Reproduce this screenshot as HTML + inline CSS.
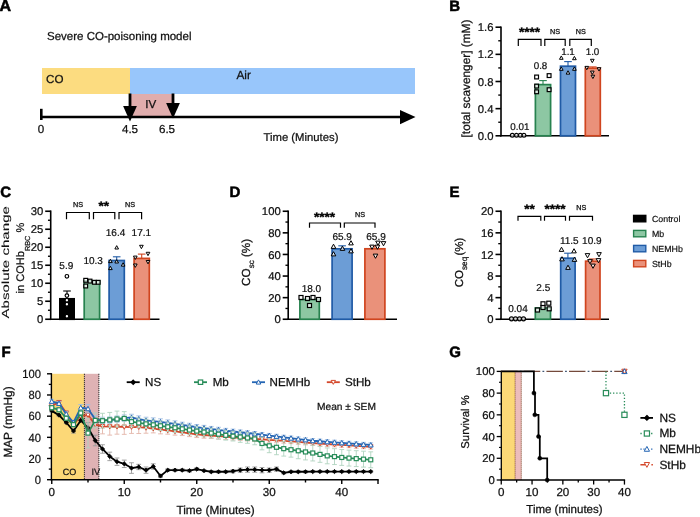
<!DOCTYPE html>
<html lang="en">
<head>
<meta charset="utf-8">
<title>Severe CO-poisoning model figure</title>
<style>
html,body{margin:0;padding:0;background:#fff;}
svg{display:block;font-family:"Liberation Sans",Arial,Helvetica,sans-serif;text-rendering:geometricPrecision;}
</style>
</head>
<body>
<svg width="700" height="517" viewBox="0 0 700 517">
<rect x="0" y="0" width="700" height="517" fill="#fff"/>
<text transform="translate(-0.50 10.70) scale(1.600)" font-size="10" text-anchor="start" font-weight="bold" fill="#000" stroke="#000" stroke-width="0.36">A</text>
<text transform="translate(47.00 40.30) scale(1.150)" font-size="10" text-anchor="start" fill="#111" stroke="#111" stroke-width="0.22">Severe CO-poisoning model</text>
<rect x="42.00" y="68.00" width="88.50" height="26.00" fill="#fcdc80"/>
<rect x="130.00" y="68.00" width="285.00" height="26.00" fill="#98c6fb"/>
<rect x="130.00" y="94.00" width="43.00" height="23.00" fill="#e0adad"/>
<text transform="translate(46.00 82.90) scale(1.160)" font-size="10" text-anchor="start" fill="#111" stroke="#111" stroke-width="0.22">CO</text>
<text transform="translate(236.50 78.80) scale(1.180)" font-size="10" text-anchor="start" fill="#111" stroke="#111" stroke-width="0.22">Air</text>
<text transform="translate(145.20 108.30) scale(1.160)" font-size="10" text-anchor="start" fill="#111" stroke="#111" stroke-width="0.22">IV</text>
<line x1="41.00" y1="117.00" x2="402.00" y2="117.00" stroke="#000" stroke-width="2.3"/>
<line x1="41.30" y1="108.80" x2="41.30" y2="120.00" stroke="#000" stroke-width="2.6"/>
<path d="M415.5 117.0 L400 110 L400 124.2 Z" fill="#000"/>
<line x1="130.00" y1="93.50" x2="130.00" y2="109.60" stroke="#000" stroke-width="2.8"/>
<path d="M130 121.6 L123.1 106.0 L136.9 106.0 Z" fill="#000"/>
<line x1="173.00" y1="93.50" x2="173.00" y2="106.60" stroke="#000" stroke-width="2.8"/>
<path d="M173 118.6 L166.1 103.0 L179.9 103.0 Z" fill="#000"/>
<text transform="translate(41.00 133.00) scale(1.160)" font-size="10" text-anchor="middle" fill="#111" stroke="#111" stroke-width="0.22">0</text>
<text transform="translate(130.00 133.00) scale(1.160)" font-size="10" text-anchor="middle" fill="#111" stroke="#111" stroke-width="0.22">4.5</text>
<text transform="translate(167.00 133.00) scale(1.160)" font-size="10" text-anchor="middle" fill="#111" stroke="#111" stroke-width="0.22">6.5</text>
<text transform="translate(263.50 140.60) scale(1.130)" font-size="10" text-anchor="start" fill="#111" stroke="#111" stroke-width="0.22">Time (Minutes)</text>
<text transform="translate(449.30 11.30) scale(1.500)" font-size="10" text-anchor="start" font-weight="bold" fill="#000" stroke="#000" stroke-width="0.36">B</text>
<line x1="501.00" y1="26.40" x2="501.00" y2="136.60" stroke="#000" stroke-width="1.6"/>
<line x1="495.50" y1="27.20" x2="501.00" y2="27.20" stroke="#000" stroke-width="1.6"/>
<text transform="translate(493.50 31.27) scale(1.130)" font-size="10" text-anchor="end" fill="#111" stroke="#111" stroke-width="0.22">1.6</text>
<line x1="495.50" y1="54.35" x2="501.00" y2="54.35" stroke="#000" stroke-width="1.6"/>
<text transform="translate(493.50 58.42) scale(1.130)" font-size="10" text-anchor="end" fill="#111" stroke="#111" stroke-width="0.22">1.2</text>
<line x1="495.50" y1="81.50" x2="501.00" y2="81.50" stroke="#000" stroke-width="1.6"/>
<text transform="translate(493.50 85.57) scale(1.130)" font-size="10" text-anchor="end" fill="#111" stroke="#111" stroke-width="0.22">0.8</text>
<line x1="495.50" y1="108.65" x2="501.00" y2="108.65" stroke="#000" stroke-width="1.6"/>
<text transform="translate(493.50 112.72) scale(1.130)" font-size="10" text-anchor="end" fill="#111" stroke="#111" stroke-width="0.22">0.4</text>
<line x1="495.50" y1="135.80" x2="501.00" y2="135.80" stroke="#000" stroke-width="1.6"/>
<text transform="translate(493.50 139.87) scale(1.130)" font-size="10" text-anchor="end" fill="#111" stroke="#111" stroke-width="0.22">0.0</text>
<line x1="498.25" y1="40.78" x2="501.00" y2="40.78" stroke="#000" stroke-width="1.36"/>
<line x1="498.25" y1="67.93" x2="501.00" y2="67.93" stroke="#000" stroke-width="1.36"/>
<line x1="498.25" y1="95.08" x2="501.00" y2="95.08" stroke="#000" stroke-width="1.36"/>
<line x1="498.25" y1="122.23" x2="501.00" y2="122.23" stroke="#000" stroke-width="1.36"/>
<line x1="500.20" y1="135.80" x2="609.00" y2="135.80" stroke="#000" stroke-width="1.6"/>
<text transform="translate(470.20 78.50) rotate(-90) scale(1.185)" font-size="10" text-anchor="middle" fill="#111" stroke="#111" stroke-width="0.22">[total scavenger] (mM)</text>
<rect x="535.40" y="84.60" width="15.20" height="51.20" fill="#8dc7a3" stroke="#27824f" stroke-width="1.7"/>
<rect x="560.50" y="66.20" width="15.00" height="69.60" fill="#6c9dd6" stroke="#205ba6" stroke-width="1.7"/>
<rect x="585.30" y="68.20" width="15.00" height="67.60" fill="#ea917a" stroke="#d0451f" stroke-width="1.7"/>
<line x1="543.00" y1="80.60" x2="543.00" y2="84.60" stroke="#27824f" stroke-width="1.1"/>
<line x1="539.20" y1="80.60" x2="546.80" y2="80.60" stroke="#27824f" stroke-width="1.1"/>
<line x1="568.00" y1="61.60" x2="568.00" y2="66.20" stroke="#205ba6" stroke-width="1.1"/>
<line x1="564.20" y1="61.60" x2="571.80" y2="61.60" stroke="#205ba6" stroke-width="1.1"/>
<line x1="592.80" y1="66.90" x2="592.80" y2="68.20" stroke="#d0451f" stroke-width="1.1"/>
<line x1="589.00" y1="66.90" x2="596.60" y2="66.90" stroke="#d0451f" stroke-width="1.1"/>
<circle cx="512.30" cy="135.30" r="1.9" fill="#fff" fill-opacity="0.72" stroke="#000" stroke-width="1.2"/>
<circle cx="516.50" cy="135.30" r="1.9" fill="#fff" fill-opacity="0.72" stroke="#000" stroke-width="1.2"/>
<circle cx="520.30" cy="135.30" r="1.9" fill="#fff" fill-opacity="0.72" stroke="#000" stroke-width="1.2"/>
<circle cx="524.00" cy="135.30" r="1.9" fill="#fff" fill-opacity="0.72" stroke="#000" stroke-width="1.2"/>
<rect x="534.70" y="75.10" width="3.8" height="3.8" fill="#fff" fill-opacity="0.72" stroke="#000" stroke-width="1.2"/>
<rect x="547.20" y="73.70" width="3.8" height="3.8" fill="#fff" fill-opacity="0.72" stroke="#000" stroke-width="1.2"/>
<rect x="534.70" y="84.20" width="3.8" height="3.8" fill="#fff" fill-opacity="0.72" stroke="#000" stroke-width="1.2"/>
<rect x="547.20" y="87.80" width="3.8" height="3.8" fill="#fff" fill-opacity="0.72" stroke="#000" stroke-width="1.2"/>
<rect x="534.70" y="89.90" width="3.8" height="3.8" fill="#fff" fill-opacity="0.72" stroke="#000" stroke-width="1.2"/>
<path d="M561.30 55.95 L563.14 59.31 L559.46 59.31 Z" fill="#fff" fill-opacity="0.72" stroke="#000" stroke-width="1.0" stroke-linejoin="round"/>
<path d="M574.40 56.35 L576.24 59.71 L572.56 59.71 Z" fill="#fff" fill-opacity="0.72" stroke="#000" stroke-width="1.0" stroke-linejoin="round"/>
<path d="M561.30 66.95 L563.14 70.31 L559.46 70.31 Z" fill="#fff" fill-opacity="0.72" stroke="#000" stroke-width="1.0" stroke-linejoin="round"/>
<path d="M568.00 70.75 L569.84 74.11 L566.16 74.11 Z" fill="#fff" fill-opacity="0.72" stroke="#000" stroke-width="1.0" stroke-linejoin="round"/>
<path d="M574.40 66.95 L576.24 70.31 L572.56 70.31 Z" fill="#fff" fill-opacity="0.72" stroke="#000" stroke-width="1.0" stroke-linejoin="round"/>
<path d="M592.30 62.65 L594.14 59.29 L590.46 59.29 Z" fill="#fff" fill-opacity="0.72" stroke="#000" stroke-width="1.0" stroke-linejoin="round"/>
<path d="M586.80 69.75 L588.64 66.39 L584.96 66.39 Z" fill="#fff" fill-opacity="0.72" stroke="#000" stroke-width="1.0" stroke-linejoin="round"/>
<path d="M599.00 71.05 L600.84 67.69 L597.16 67.69 Z" fill="#fff" fill-opacity="0.72" stroke="#000" stroke-width="1.0" stroke-linejoin="round"/>
<path d="M592.30 74.45 L594.14 71.09 L590.46 71.09 Z" fill="#fff" fill-opacity="0.72" stroke="#000" stroke-width="1.0" stroke-linejoin="round"/>
<path d="M592.90 78.55 L594.74 75.19 L591.06 75.19 Z" fill="#fff" fill-opacity="0.72" stroke="#000" stroke-width="1.0" stroke-linejoin="round"/>
<text transform="translate(519.80 130.00) scale(0.980)" font-size="10" text-anchor="middle" fill="#111" stroke="#111" stroke-width="0.22">0.01</text>
<text transform="translate(540.50 68.80) scale(0.980)" font-size="10" text-anchor="middle" fill="#111" stroke="#111" stroke-width="0.22">0.8</text>
<text transform="translate(568.00 54.50) scale(0.980)" font-size="10" text-anchor="middle" fill="#111" stroke="#111" stroke-width="0.22">1.1</text>
<text transform="translate(592.50 54.50) scale(0.980)" font-size="10" text-anchor="middle" fill="#111" stroke="#111" stroke-width="0.22">1.0</text>
<path d="M518.30 46.00 V39.30 H541.00 V46.00" fill="none" stroke="#000" stroke-width="1.2"/>
<path d="M544.80 46.00 V39.30 H565.20 V46.00" fill="none" stroke="#000" stroke-width="1.2"/>
<path d="M569.80 46.00 V39.30 H591.30 V46.00" fill="none" stroke="#000" stroke-width="1.2"/>
<text transform="translate(529.50 36.11) scale(1.360 1.197)" font-size="10" text-anchor="middle" font-weight="bold" fill="#000" stroke="#000" stroke-width="0.3">****</text>
<text transform="translate(555.00 33.50) scale(0.72)" font-size="10" text-anchor="middle" fill="#111" stroke="#111" stroke-width="0.4">NS</text>
<text transform="translate(580.80 33.50) scale(0.72)" font-size="10" text-anchor="middle" fill="#111" stroke="#111" stroke-width="0.4">NS</text>
<text transform="translate(0.30 197.30) scale(1.500)" font-size="10" text-anchor="start" font-weight="bold" fill="#000" stroke="#000" stroke-width="0.36">C</text>
<line x1="50.70" y1="210.45" x2="50.70" y2="320.05" stroke="#000" stroke-width="1.6"/>
<line x1="45.20" y1="211.25" x2="50.70" y2="211.25" stroke="#000" stroke-width="1.6"/>
<text transform="translate(43.20 215.32) scale(1.130)" font-size="10" text-anchor="end" fill="#111" stroke="#111" stroke-width="0.22">30</text>
<line x1="45.20" y1="229.25" x2="50.70" y2="229.25" stroke="#000" stroke-width="1.6"/>
<text transform="translate(43.20 233.32) scale(1.130)" font-size="10" text-anchor="end" fill="#111" stroke="#111" stroke-width="0.22">25</text>
<line x1="45.20" y1="247.25" x2="50.70" y2="247.25" stroke="#000" stroke-width="1.6"/>
<text transform="translate(43.20 251.32) scale(1.130)" font-size="10" text-anchor="end" fill="#111" stroke="#111" stroke-width="0.22">20</text>
<line x1="45.20" y1="265.25" x2="50.70" y2="265.25" stroke="#000" stroke-width="1.6"/>
<text transform="translate(43.20 269.32) scale(1.130)" font-size="10" text-anchor="end" fill="#111" stroke="#111" stroke-width="0.22">15</text>
<line x1="45.20" y1="283.25" x2="50.70" y2="283.25" stroke="#000" stroke-width="1.6"/>
<text transform="translate(43.20 287.32) scale(1.130)" font-size="10" text-anchor="end" fill="#111" stroke="#111" stroke-width="0.22">10</text>
<line x1="45.20" y1="301.25" x2="50.70" y2="301.25" stroke="#000" stroke-width="1.6"/>
<text transform="translate(43.20 305.32) scale(1.130)" font-size="10" text-anchor="end" fill="#111" stroke="#111" stroke-width="0.22">5</text>
<line x1="45.20" y1="319.25" x2="50.70" y2="319.25" stroke="#000" stroke-width="1.6"/>
<text transform="translate(43.20 323.32) scale(1.130)" font-size="10" text-anchor="end" fill="#111" stroke="#111" stroke-width="0.22">0</text>
<line x1="47.95" y1="220.25" x2="50.70" y2="220.25" stroke="#000" stroke-width="1.36"/>
<line x1="47.95" y1="238.25" x2="50.70" y2="238.25" stroke="#000" stroke-width="1.36"/>
<line x1="47.95" y1="256.25" x2="50.70" y2="256.25" stroke="#000" stroke-width="1.36"/>
<line x1="47.95" y1="274.25" x2="50.70" y2="274.25" stroke="#000" stroke-width="1.36"/>
<line x1="47.95" y1="292.25" x2="50.70" y2="292.25" stroke="#000" stroke-width="1.36"/>
<line x1="47.95" y1="310.25" x2="50.70" y2="310.25" stroke="#000" stroke-width="1.36"/>
<line x1="49.90" y1="319.25" x2="159.50" y2="319.25" stroke="#000" stroke-width="1.6"/>
<text transform="translate(8.9 262.3) rotate(-90) scale(1.51 1.03)" font-size="10" text-anchor="middle" fill="#111" stroke="#111" stroke-width="0.08">Absolute change</text>
<text transform="translate(24.3 293.4) rotate(-90) scale(1.105)" font-size="10" fill="#111" stroke="#111" stroke-width="0.22">in COHb<tspan font-size="6.6" dy="4.8">RBC</tspan><tspan dy="-4.8"> %</tspan></text>
<rect x="59.85" y="298.80" width="14.30" height="20.45" fill="#000" stroke="#000" stroke-width="1.7"/>
<rect x="84.20" y="280.80" width="15.40" height="38.45" fill="#8dc7a3" stroke="#27824f" stroke-width="1.7"/>
<rect x="109.10" y="260.50" width="15.20" height="58.75" fill="#6c9dd6" stroke="#205ba6" stroke-width="1.7"/>
<rect x="134.10" y="258.40" width="15.20" height="60.85" fill="#ea917a" stroke="#d0451f" stroke-width="1.7"/>
<line x1="67.00" y1="291.00" x2="67.00" y2="298.80" stroke="#000" stroke-width="1.1"/>
<line x1="63.20" y1="291.00" x2="70.80" y2="291.00" stroke="#000" stroke-width="1.1"/>
<line x1="116.70" y1="256.80" x2="116.70" y2="260.50" stroke="#205ba6" stroke-width="1.1"/>
<line x1="112.90" y1="256.80" x2="120.50" y2="256.80" stroke="#205ba6" stroke-width="1.1"/>
<line x1="141.70" y1="254.10" x2="141.70" y2="258.40" stroke="#d0451f" stroke-width="1.1"/>
<line x1="137.90" y1="254.10" x2="145.50" y2="254.10" stroke="#d0451f" stroke-width="1.1"/>
<circle cx="66.90" cy="276.30" r="1.8" fill="#fff" stroke="#000" stroke-width="1.2"/>
<circle cx="66.90" cy="295.60" r="1.8" fill="#fff" stroke="#000" stroke-width="1.2"/>
<circle cx="66.90" cy="300.30" r="1.8" fill="#fff" stroke="#000" stroke-width="1.2"/>
<circle cx="66.90" cy="304.20" r="1.8" fill="#fff" stroke="#000" stroke-width="1.2"/>
<circle cx="66.90" cy="316.20" r="1.8" fill="#fff" stroke="#000" stroke-width="1.2"/>
<rect x="83.80" y="278.40" width="3.8" height="3.8" fill="#fff" fill-opacity="0.72" stroke="#000" stroke-width="1.2"/>
<rect x="88.10" y="279.20" width="3.8" height="3.8" fill="#fff" fill-opacity="0.72" stroke="#000" stroke-width="1.2"/>
<rect x="92.50" y="280.40" width="3.8" height="3.8" fill="#fff" fill-opacity="0.72" stroke="#000" stroke-width="1.2"/>
<rect x="96.30" y="280.40" width="3.8" height="3.8" fill="#fff" fill-opacity="0.72" stroke="#000" stroke-width="1.2"/>
<rect x="83.80" y="284.10" width="3.8" height="3.8" fill="#fff" fill-opacity="0.72" stroke="#000" stroke-width="1.2"/>
<path d="M116.70 245.65 L118.54 249.01 L114.86 249.01 Z" fill="#fff" fill-opacity="0.72" stroke="#000" stroke-width="1.0" stroke-linejoin="round"/>
<path d="M110.40 259.25 L112.24 262.61 L108.56 262.61 Z" fill="#fff" fill-opacity="0.72" stroke="#000" stroke-width="1.0" stroke-linejoin="round"/>
<path d="M116.70 259.65 L118.54 263.01 L114.86 263.01 Z" fill="#fff" fill-opacity="0.72" stroke="#000" stroke-width="1.0" stroke-linejoin="round"/>
<path d="M123.10 262.75 L124.94 266.11 L121.26 266.11 Z" fill="#fff" fill-opacity="0.72" stroke="#000" stroke-width="1.0" stroke-linejoin="round"/>
<path d="M110.40 266.25 L112.24 269.61 L108.56 269.61 Z" fill="#fff" fill-opacity="0.72" stroke="#000" stroke-width="1.0" stroke-linejoin="round"/>
<path d="M141.40 248.65 L143.24 245.29 L139.56 245.29 Z" fill="#fff" fill-opacity="0.72" stroke="#000" stroke-width="1.0" stroke-linejoin="round"/>
<path d="M148.00 255.65 L149.84 252.29 L146.16 252.29 Z" fill="#fff" fill-opacity="0.72" stroke="#000" stroke-width="1.0" stroke-linejoin="round"/>
<path d="M135.30 259.45 L137.14 256.09 L133.46 256.09 Z" fill="#fff" fill-opacity="0.72" stroke="#000" stroke-width="1.0" stroke-linejoin="round"/>
<path d="M148.00 263.85 L149.84 260.49 L146.16 260.49 Z" fill="#fff" fill-opacity="0.72" stroke="#000" stroke-width="1.0" stroke-linejoin="round"/>
<path d="M135.30 267.35 L137.14 263.99 L133.46 263.99 Z" fill="#fff" fill-opacity="0.72" stroke="#000" stroke-width="1.0" stroke-linejoin="round"/>
<text transform="translate(66.30 268.80) scale(1.000)" font-size="10" text-anchor="middle" fill="#111" stroke="#111" stroke-width="0.22">5.9</text>
<text transform="translate(93.20 263.80) scale(1.000)" font-size="10" text-anchor="middle" fill="#111" stroke="#111" stroke-width="0.22">10.3</text>
<text transform="translate(115.50 236.30) scale(1.000)" font-size="10" text-anchor="middle" fill="#111" stroke="#111" stroke-width="0.22">16.4</text>
<text transform="translate(141.30 236.30) scale(1.000)" font-size="10" text-anchor="middle" fill="#111" stroke="#111" stroke-width="0.22">17.1</text>
<path d="M66.50 219.30 V212.50 H89.30 V219.30" fill="none" stroke="#000" stroke-width="1.2"/>
<path d="M93.50 219.30 V212.50 H114.80 V219.30" fill="none" stroke="#000" stroke-width="1.2"/>
<path d="M119.00 219.30 V212.50 H141.60 V219.30" fill="none" stroke="#000" stroke-width="1.2"/>
<text transform="translate(78.00 206.50) scale(0.72)" font-size="10" text-anchor="middle" fill="#111" stroke="#111" stroke-width="0.4">NS</text>
<text transform="translate(103.80 209.91) scale(1.360 1.197)" font-size="10" text-anchor="middle" font-weight="bold" fill="#000" stroke="#000" stroke-width="0.3">**</text>
<text transform="translate(130.00 206.50) scale(0.72)" font-size="10" text-anchor="middle" fill="#111" stroke="#111" stroke-width="0.4">NS</text>
<text transform="translate(229.50 197.00) scale(1.500)" font-size="10" text-anchor="start" font-weight="bold" fill="#000" stroke="#000" stroke-width="0.36">D</text>
<line x1="288.20" y1="210.45" x2="288.20" y2="320.05" stroke="#000" stroke-width="1.6"/>
<line x1="282.70" y1="211.25" x2="288.20" y2="211.25" stroke="#000" stroke-width="1.6"/>
<text transform="translate(280.70 215.32) scale(1.130)" font-size="10" text-anchor="end" fill="#111" stroke="#111" stroke-width="0.22">100</text>
<line x1="282.70" y1="232.85" x2="288.20" y2="232.85" stroke="#000" stroke-width="1.6"/>
<text transform="translate(280.70 236.92) scale(1.130)" font-size="10" text-anchor="end" fill="#111" stroke="#111" stroke-width="0.22">80</text>
<line x1="282.70" y1="254.45" x2="288.20" y2="254.45" stroke="#000" stroke-width="1.6"/>
<text transform="translate(280.70 258.52) scale(1.130)" font-size="10" text-anchor="end" fill="#111" stroke="#111" stroke-width="0.22">60</text>
<line x1="282.70" y1="276.05" x2="288.20" y2="276.05" stroke="#000" stroke-width="1.6"/>
<text transform="translate(280.70 280.12) scale(1.130)" font-size="10" text-anchor="end" fill="#111" stroke="#111" stroke-width="0.22">40</text>
<line x1="282.70" y1="297.65" x2="288.20" y2="297.65" stroke="#000" stroke-width="1.6"/>
<text transform="translate(280.70 301.72) scale(1.130)" font-size="10" text-anchor="end" fill="#111" stroke="#111" stroke-width="0.22">20</text>
<line x1="282.70" y1="319.25" x2="288.20" y2="319.25" stroke="#000" stroke-width="1.6"/>
<text transform="translate(280.70 323.32) scale(1.130)" font-size="10" text-anchor="end" fill="#111" stroke="#111" stroke-width="0.22">0</text>
<line x1="285.45" y1="222.05" x2="288.20" y2="222.05" stroke="#000" stroke-width="1.36"/>
<line x1="285.45" y1="243.65" x2="288.20" y2="243.65" stroke="#000" stroke-width="1.36"/>
<line x1="285.45" y1="265.25" x2="288.20" y2="265.25" stroke="#000" stroke-width="1.36"/>
<line x1="285.45" y1="286.85" x2="288.20" y2="286.85" stroke="#000" stroke-width="1.36"/>
<line x1="285.45" y1="308.45" x2="288.20" y2="308.45" stroke="#000" stroke-width="1.36"/>
<line x1="287.40" y1="319.25" x2="397.00" y2="319.25" stroke="#000" stroke-width="1.6"/>
<text transform="translate(250 285.9) rotate(-90) scale(1.17)" font-size="10" fill="#111" stroke="#111" stroke-width="0.22">CO<tspan font-size="6.9" dy="3.3">sc</tspan><tspan dy="-3.3"> (%)</tspan></text>
<rect x="299.90" y="299.50" width="19.40" height="19.75" fill="#8dc7a3" stroke="#27824f" stroke-width="1.7"/>
<rect x="332.10" y="248.80" width="20.00" height="70.45" fill="#6c9dd6" stroke="#205ba6" stroke-width="1.7"/>
<rect x="364.90" y="248.80" width="20.00" height="70.45" fill="#ea917a" stroke="#d0451f" stroke-width="1.7"/>
<line x1="342.10" y1="245.81" x2="342.10" y2="248.08" stroke="#205ba6" stroke-width="1.1"/>
<line x1="338.30" y1="245.81" x2="345.90" y2="245.81" stroke="#205ba6" stroke-width="1.1"/>
<line x1="374.90" y1="245.81" x2="374.90" y2="248.08" stroke="#d0451f" stroke-width="1.1"/>
<line x1="371.10" y1="245.81" x2="378.70" y2="245.81" stroke="#d0451f" stroke-width="1.1"/>
<rect x="299.00" y="295.50" width="4.0" height="4.0" fill="#fff" fill-opacity="0.72" stroke="#000" stroke-width="1.2"/>
<rect x="305.50" y="296.50" width="4.0" height="4.0" fill="#fff" fill-opacity="0.72" stroke="#000" stroke-width="1.2"/>
<rect x="311.00" y="295.50" width="4.0" height="4.0" fill="#fff" fill-opacity="0.72" stroke="#000" stroke-width="1.2"/>
<rect x="316.50" y="297.50" width="4.0" height="4.0" fill="#fff" fill-opacity="0.72" stroke="#000" stroke-width="1.2"/>
<rect x="307.50" y="303.50" width="4.0" height="4.0" fill="#fff" fill-opacity="0.72" stroke="#000" stroke-width="1.2"/>
<path d="M333.50 244.19 L335.80 248.39 L331.20 248.39 Z" fill="#fff" fill-opacity="0.72" stroke="#000" stroke-width="1.0" stroke-linejoin="round"/>
<path d="M351.00 240.69 L353.30 244.89 L348.70 244.89 Z" fill="#fff" fill-opacity="0.72" stroke="#000" stroke-width="1.0" stroke-linejoin="round"/>
<path d="M342.50 246.19 L344.80 250.39 L340.20 250.39 Z" fill="#fff" fill-opacity="0.72" stroke="#000" stroke-width="1.0" stroke-linejoin="round"/>
<path d="M333.50 251.69 L335.80 255.89 L331.20 255.89 Z" fill="#fff" fill-opacity="0.72" stroke="#000" stroke-width="1.0" stroke-linejoin="round"/>
<path d="M351.00 248.69 L353.30 252.89 L348.70 252.89 Z" fill="#fff" fill-opacity="0.72" stroke="#000" stroke-width="1.0" stroke-linejoin="round"/>
<path d="M378.00 245.31 L380.30 241.11 L375.70 241.11 Z" fill="#fff" fill-opacity="0.72" stroke="#000" stroke-width="1.0" stroke-linejoin="round"/>
<path d="M383.50 245.81 L385.80 241.61 L381.20 241.61 Z" fill="#fff" fill-opacity="0.72" stroke="#000" stroke-width="1.0" stroke-linejoin="round"/>
<path d="M372.00 249.31 L374.30 245.11 L369.70 245.11 Z" fill="#fff" fill-opacity="0.72" stroke="#000" stroke-width="1.0" stroke-linejoin="round"/>
<path d="M377.50 249.31 L379.80 245.11 L375.20 245.11 Z" fill="#fff" fill-opacity="0.72" stroke="#000" stroke-width="1.0" stroke-linejoin="round"/>
<path d="M375.50 258.31 L377.80 254.11 L373.20 254.11 Z" fill="#fff" fill-opacity="0.72" stroke="#000" stroke-width="1.0" stroke-linejoin="round"/>
<text transform="translate(311.40 291.90) scale(1.000)" font-size="10" text-anchor="middle" fill="#111" stroke="#111" stroke-width="0.22">18.0</text>
<text transform="translate(342.20 239.60) scale(1.000)" font-size="10" text-anchor="middle" fill="#111" stroke="#111" stroke-width="0.22">65.9</text>
<text transform="translate(376.00 240.00) scale(1.000)" font-size="10" text-anchor="middle" fill="#111" stroke="#111" stroke-width="0.22">65.9</text>
<path d="M309.50 227.80 V223.00 H340.50 V227.80" fill="none" stroke="#000" stroke-width="1.2"/>
<path d="M344.30 227.80 V223.00 H375.00 V227.80" fill="none" stroke="#000" stroke-width="1.2"/>
<text transform="translate(324.50 220.61) scale(1.360 1.197)" font-size="10" text-anchor="middle" font-weight="bold" fill="#000" stroke="#000" stroke-width="0.3">****</text>
<text transform="translate(360.00 216.50) scale(0.72)" font-size="10" text-anchor="middle" fill="#111" stroke="#111" stroke-width="0.4">NS</text>
<text transform="translate(449.50 197.00) scale(1.500)" font-size="10" text-anchor="start" font-weight="bold" fill="#000" stroke="#000" stroke-width="0.36">E</text>
<line x1="501.00" y1="210.45" x2="501.00" y2="320.05" stroke="#000" stroke-width="1.6"/>
<line x1="495.50" y1="211.25" x2="501.00" y2="211.25" stroke="#000" stroke-width="1.6"/>
<text transform="translate(493.50 215.32) scale(1.130)" font-size="10" text-anchor="end" fill="#111" stroke="#111" stroke-width="0.22">20</text>
<line x1="495.50" y1="232.85" x2="501.00" y2="232.85" stroke="#000" stroke-width="1.6"/>
<text transform="translate(493.50 236.92) scale(1.130)" font-size="10" text-anchor="end" fill="#111" stroke="#111" stroke-width="0.22">16</text>
<line x1="495.50" y1="254.45" x2="501.00" y2="254.45" stroke="#000" stroke-width="1.6"/>
<text transform="translate(493.50 258.52) scale(1.130)" font-size="10" text-anchor="end" fill="#111" stroke="#111" stroke-width="0.22">12</text>
<line x1="495.50" y1="276.05" x2="501.00" y2="276.05" stroke="#000" stroke-width="1.6"/>
<text transform="translate(493.50 280.12) scale(1.130)" font-size="10" text-anchor="end" fill="#111" stroke="#111" stroke-width="0.22">8</text>
<line x1="495.50" y1="297.65" x2="501.00" y2="297.65" stroke="#000" stroke-width="1.6"/>
<text transform="translate(493.50 301.72) scale(1.130)" font-size="10" text-anchor="end" fill="#111" stroke="#111" stroke-width="0.22">4</text>
<line x1="495.50" y1="319.25" x2="501.00" y2="319.25" stroke="#000" stroke-width="1.6"/>
<text transform="translate(493.50 323.32) scale(1.130)" font-size="10" text-anchor="end" fill="#111" stroke="#111" stroke-width="0.22">0</text>
<line x1="498.25" y1="222.05" x2="501.00" y2="222.05" stroke="#000" stroke-width="1.36"/>
<line x1="498.25" y1="243.65" x2="501.00" y2="243.65" stroke="#000" stroke-width="1.36"/>
<line x1="498.25" y1="265.25" x2="501.00" y2="265.25" stroke="#000" stroke-width="1.36"/>
<line x1="498.25" y1="286.85" x2="501.00" y2="286.85" stroke="#000" stroke-width="1.36"/>
<line x1="498.25" y1="308.45" x2="501.00" y2="308.45" stroke="#000" stroke-width="1.36"/>
<line x1="500.20" y1="319.25" x2="609.00" y2="319.25" stroke="#000" stroke-width="1.6"/>
<text transform="translate(463 287.3) rotate(-90) scale(1.15)" font-size="10" fill="#111" stroke="#111" stroke-width="0.22">CO<tspan font-size="7.2" dy="3.1">seq</tspan><tspan dy="-3.1" dx="1">(%)</tspan></text>
<rect x="535.30" y="308.00" width="15.20" height="11.25" fill="#8dc7a3" stroke="#27824f" stroke-width="1.7"/>
<rect x="560.70" y="258.20" width="14.40" height="61.05" fill="#6c9dd6" stroke="#205ba6" stroke-width="1.7"/>
<rect x="585.60" y="261.20" width="14.40" height="58.05" fill="#ea917a" stroke="#d0451f" stroke-width="1.7"/>
<line x1="567.90" y1="253.20" x2="567.90" y2="258.20" stroke="#205ba6" stroke-width="1.1"/>
<line x1="564.10" y1="253.20" x2="571.70" y2="253.20" stroke="#205ba6" stroke-width="1.1"/>
<line x1="592.80" y1="259.00" x2="592.80" y2="261.20" stroke="#d0451f" stroke-width="1.1"/>
<line x1="589.00" y1="259.00" x2="596.60" y2="259.00" stroke="#d0451f" stroke-width="1.1"/>
<circle cx="511.50" cy="318.80" r="2.0" fill="#fff" fill-opacity="0.72" stroke="#000" stroke-width="1.2"/>
<circle cx="515.50" cy="318.80" r="2.0" fill="#fff" fill-opacity="0.72" stroke="#000" stroke-width="1.2"/>
<circle cx="519.50" cy="318.80" r="2.0" fill="#fff" fill-opacity="0.72" stroke="#000" stroke-width="1.2"/>
<circle cx="523.50" cy="318.80" r="2.0" fill="#fff" fill-opacity="0.72" stroke="#000" stroke-width="1.2"/>
<rect x="535.50" y="308.00" width="4.0" height="4.0" fill="#fff" fill-opacity="0.72" stroke="#000" stroke-width="1.2"/>
<rect x="541.00" y="301.80" width="4.0" height="4.0" fill="#fff" fill-opacity="0.72" stroke="#000" stroke-width="1.2"/>
<rect x="546.80" y="301.20" width="4.0" height="4.0" fill="#fff" fill-opacity="0.72" stroke="#000" stroke-width="1.2"/>
<rect x="541.00" y="305.50" width="4.0" height="4.0" fill="#fff" fill-opacity="0.72" stroke="#000" stroke-width="1.2"/>
<rect x="547.20" y="306.80" width="4.0" height="4.0" fill="#fff" fill-opacity="0.72" stroke="#000" stroke-width="1.2"/>
<path d="M561.50 247.19 L563.80 251.39 L559.20 251.39 Z" fill="#fff" fill-opacity="0.72" stroke="#000" stroke-width="1.0" stroke-linejoin="round"/>
<path d="M574.00 248.69 L576.30 252.89 L571.70 252.89 Z" fill="#fff" fill-opacity="0.72" stroke="#000" stroke-width="1.0" stroke-linejoin="round"/>
<path d="M562.00 256.69 L564.30 260.89 L559.70 260.89 Z" fill="#fff" fill-opacity="0.72" stroke="#000" stroke-width="1.0" stroke-linejoin="round"/>
<path d="M574.50 257.19 L576.80 261.39 L572.20 261.39 Z" fill="#fff" fill-opacity="0.72" stroke="#000" stroke-width="1.0" stroke-linejoin="round"/>
<path d="M568.00 265.19 L570.30 269.39 L565.70 269.39 Z" fill="#fff" fill-opacity="0.72" stroke="#000" stroke-width="1.0" stroke-linejoin="round"/>
<path d="M587.50 257.81 L589.80 253.61 L585.20 253.61 Z" fill="#fff" fill-opacity="0.72" stroke="#000" stroke-width="1.0" stroke-linejoin="round"/>
<path d="M599.00 256.81 L601.30 252.61 L596.70 252.61 Z" fill="#fff" fill-opacity="0.72" stroke="#000" stroke-width="1.0" stroke-linejoin="round"/>
<path d="M598.50 262.81 L600.80 258.61 L596.20 258.61 Z" fill="#fff" fill-opacity="0.72" stroke="#000" stroke-width="1.0" stroke-linejoin="round"/>
<path d="M590.00 263.81 L592.30 259.61 L587.70 259.61 Z" fill="#fff" fill-opacity="0.72" stroke="#000" stroke-width="1.0" stroke-linejoin="round"/>
<path d="M593.00 268.31 L595.30 264.11 L590.70 264.11 Z" fill="#fff" fill-opacity="0.72" stroke="#000" stroke-width="1.0" stroke-linejoin="round"/>
<text transform="translate(518.00 311.80) scale(1.000)" font-size="10" text-anchor="middle" fill="#111" stroke="#111" stroke-width="0.22">0.04</text>
<text transform="translate(543.30 290.80) scale(1.000)" font-size="10" text-anchor="middle" fill="#111" stroke="#111" stroke-width="0.22">2.5</text>
<text transform="translate(569.30 244.30) scale(1.000)" font-size="10" text-anchor="middle" fill="#111" stroke="#111" stroke-width="0.22">11.5</text>
<text transform="translate(591.80 244.30) scale(1.000)" font-size="10" text-anchor="middle" fill="#111" stroke="#111" stroke-width="0.22">10.9</text>
<path d="M518.00 220.80 V216.30 H540.80 V220.80" fill="none" stroke="#000" stroke-width="1.2"/>
<path d="M544.50 220.80 V216.30 H565.50 V220.80" fill="none" stroke="#000" stroke-width="1.2"/>
<path d="M569.50 220.80 V216.30 H592.50 V220.80" fill="none" stroke="#000" stroke-width="1.2"/>
<text transform="translate(529.50 212.91) scale(1.360 1.197)" font-size="10" text-anchor="middle" font-weight="bold" fill="#000" stroke="#000" stroke-width="0.3">**</text>
<text transform="translate(555.00 212.91) scale(1.360 1.197)" font-size="10" text-anchor="middle" font-weight="bold" fill="#000" stroke="#000" stroke-width="0.3">****</text>
<text transform="translate(581.30 209.50) scale(0.72)" font-size="10" text-anchor="middle" fill="#111" stroke="#111" stroke-width="0.4">NS</text>
<rect x="633.60" y="215.40" width="12.20" height="6.40" fill="#000" stroke="#000" stroke-width="1.4"/>
<text transform="translate(652.00 221.90) scale(0.880)" font-size="10" text-anchor="start" fill="#111" stroke="#111" stroke-width="0.22">Control</text>
<rect x="633.60" y="230.40" width="12.20" height="6.40" fill="#8dc7a3" stroke="#27824f" stroke-width="1.4"/>
<text transform="translate(652.00 236.90) scale(0.880)" font-size="10" text-anchor="start" fill="#111" stroke="#111" stroke-width="0.22">Mb</text>
<rect x="633.60" y="245.40" width="12.20" height="6.40" fill="#6c9dd6" stroke="#205ba6" stroke-width="1.4"/>
<text transform="translate(652.00 251.90) scale(0.880)" font-size="10" text-anchor="start" fill="#111" stroke="#111" stroke-width="0.22">NEMHb</text>
<rect x="633.60" y="260.40" width="12.20" height="6.40" fill="#ea917a" stroke="#d0451f" stroke-width="1.4"/>
<text transform="translate(652.00 266.90) scale(0.880)" font-size="10" text-anchor="start" fill="#111" stroke="#111" stroke-width="0.22">StHb</text>
<text transform="translate(1.50 357.00) scale(1.500)" font-size="10" text-anchor="start" font-weight="bold" fill="#000" stroke="#000" stroke-width="0.36">F</text>
<rect x="51.75" y="373.80" width="32.62" height="105.90" fill="#fcd877"/>
<rect x="84.38" y="373.80" width="14.50" height="105.90" fill="#dfb2b4"/>
<line x1="84.38" y1="373.80" x2="84.38" y2="479.70" stroke="#000" stroke-width="1.0" stroke-dasharray="1 1"/>
<line x1="98.88" y1="373.80" x2="98.88" y2="479.70" stroke="#000" stroke-width="1.0" stroke-dasharray="1 1"/>
<text transform="translate(69.40 474.60) scale(0.900)" font-size="10" text-anchor="middle" fill="#111" stroke="#111" stroke-width="0.22">CO</text>
<text transform="translate(95.80 474.60) scale(0.920)" font-size="10" text-anchor="middle" fill="#111" stroke="#111" stroke-width="0.22">IV</text>
<line x1="51.40" y1="373.10" x2="51.40" y2="480.40" stroke="#000" stroke-width="1.4"/>
<line x1="47.00" y1="373.80" x2="51.40" y2="373.80" stroke="#000" stroke-width="1.4"/>
<text transform="translate(41.0 378.00) scale(1.12 1.19)" font-size="10" text-anchor="end" fill="#111" stroke="#111" stroke-width="0.18">100</text>
<line x1="47.00" y1="394.98" x2="51.40" y2="394.98" stroke="#000" stroke-width="1.4"/>
<text transform="translate(41.0 399.18) scale(1.12 1.19)" font-size="10" text-anchor="end" fill="#111" stroke="#111" stroke-width="0.18">80</text>
<line x1="47.00" y1="416.16" x2="51.40" y2="416.16" stroke="#000" stroke-width="1.4"/>
<text transform="translate(41.0 420.36) scale(1.12 1.19)" font-size="10" text-anchor="end" fill="#111" stroke="#111" stroke-width="0.18">60</text>
<line x1="47.00" y1="437.34" x2="51.40" y2="437.34" stroke="#000" stroke-width="1.4"/>
<text transform="translate(41.0 441.54) scale(1.12 1.19)" font-size="10" text-anchor="end" fill="#111" stroke="#111" stroke-width="0.18">40</text>
<line x1="47.00" y1="458.52" x2="51.40" y2="458.52" stroke="#000" stroke-width="1.4"/>
<text transform="translate(41.0 462.72) scale(1.12 1.19)" font-size="10" text-anchor="end" fill="#111" stroke="#111" stroke-width="0.18">20</text>
<line x1="47.00" y1="479.70" x2="51.40" y2="479.70" stroke="#000" stroke-width="1.4"/>
<text transform="translate(41.0 483.90) scale(1.12 1.19)" font-size="10" text-anchor="end" fill="#111" stroke="#111" stroke-width="0.18">0</text>
<line x1="48.80" y1="384.39" x2="51.40" y2="384.39" stroke="#000" stroke-width="1.3"/>
<line x1="48.80" y1="405.57" x2="51.40" y2="405.57" stroke="#000" stroke-width="1.3"/>
<line x1="48.80" y1="426.75" x2="51.40" y2="426.75" stroke="#000" stroke-width="1.3"/>
<line x1="48.80" y1="447.93" x2="51.40" y2="447.93" stroke="#000" stroke-width="1.3"/>
<line x1="48.80" y1="469.11" x2="51.40" y2="469.11" stroke="#000" stroke-width="1.3"/>
<line x1="50.70" y1="479.70" x2="378.70" y2="479.70" stroke="#000" stroke-width="1.4"/>
<line x1="51.75" y1="479.70" x2="51.75" y2="484.10" stroke="#000" stroke-width="1.4"/>
<line x1="88.00" y1="479.70" x2="88.00" y2="482.50" stroke="#000" stroke-width="1.4"/>
<line x1="124.25" y1="479.70" x2="124.25" y2="484.10" stroke="#000" stroke-width="1.4"/>
<line x1="160.50" y1="479.70" x2="160.50" y2="482.50" stroke="#000" stroke-width="1.4"/>
<line x1="196.75" y1="479.70" x2="196.75" y2="484.10" stroke="#000" stroke-width="1.4"/>
<line x1="233.00" y1="479.70" x2="233.00" y2="482.50" stroke="#000" stroke-width="1.4"/>
<line x1="269.25" y1="479.70" x2="269.25" y2="484.10" stroke="#000" stroke-width="1.4"/>
<line x1="305.50" y1="479.70" x2="305.50" y2="482.50" stroke="#000" stroke-width="1.4"/>
<line x1="341.75" y1="479.70" x2="341.75" y2="484.10" stroke="#000" stroke-width="1.4"/>
<line x1="378.00" y1="479.70" x2="378.00" y2="484.10" stroke="#000" stroke-width="1.4"/>
<text transform="translate(51.75 495.80) scale(1.160)" font-size="10" text-anchor="middle" fill="#111" stroke="#111" stroke-width="0.22">0</text>
<text transform="translate(124.25 495.80) scale(1.160)" font-size="10" text-anchor="middle" fill="#111" stroke="#111" stroke-width="0.22">10</text>
<text transform="translate(196.75 495.80) scale(1.160)" font-size="10" text-anchor="middle" fill="#111" stroke="#111" stroke-width="0.22">20</text>
<text transform="translate(269.25 495.80) scale(1.160)" font-size="10" text-anchor="middle" fill="#111" stroke="#111" stroke-width="0.22">30</text>
<text transform="translate(341.75 495.80) scale(1.160)" font-size="10" text-anchor="middle" fill="#111" stroke="#111" stroke-width="0.22">40</text>
<text transform="translate(176.40 513.90) scale(1.180)" font-size="10" text-anchor="start" fill="#111" stroke="#111" stroke-width="0.22">Time (Minutes)</text>
<text transform="translate(12.40 422.00) rotate(-90) scale(1.180)" font-size="10" text-anchor="middle" fill="#111" stroke="#111" stroke-width="0.22">MAP (mmHg)</text>
<line x1="51.75" y1="403.45" x2="51.75" y2="407.69" stroke="#e3b5a9" stroke-width="0.9"/>
<line x1="49.35" y1="403.45" x2="54.15" y2="403.45" stroke="#e3b5a9" stroke-width="0.9"/>
<line x1="49.35" y1="407.69" x2="54.15" y2="407.69" stroke="#e3b5a9" stroke-width="0.9"/>
<line x1="59.00" y1="400.27" x2="59.00" y2="404.51" stroke="#e3b5a9" stroke-width="0.9"/>
<line x1="56.60" y1="400.27" x2="61.40" y2="400.27" stroke="#e3b5a9" stroke-width="0.9"/>
<line x1="56.60" y1="404.51" x2="61.40" y2="404.51" stroke="#e3b5a9" stroke-width="0.9"/>
<line x1="66.25" y1="410.87" x2="66.25" y2="415.10" stroke="#e3b5a9" stroke-width="0.9"/>
<line x1="63.85" y1="410.87" x2="68.65" y2="410.87" stroke="#e3b5a9" stroke-width="0.9"/>
<line x1="63.85" y1="415.10" x2="68.65" y2="415.10" stroke="#e3b5a9" stroke-width="0.9"/>
<line x1="73.50" y1="422.51" x2="73.50" y2="426.75" stroke="#e3b5a9" stroke-width="0.9"/>
<line x1="71.10" y1="422.51" x2="75.90" y2="422.51" stroke="#e3b5a9" stroke-width="0.9"/>
<line x1="71.10" y1="426.75" x2="75.90" y2="426.75" stroke="#e3b5a9" stroke-width="0.9"/>
<line x1="80.75" y1="411.92" x2="80.75" y2="420.40" stroke="#e3b5a9" stroke-width="0.9"/>
<line x1="78.35" y1="411.92" x2="83.15" y2="411.92" stroke="#e3b5a9" stroke-width="0.9"/>
<line x1="78.35" y1="420.40" x2="83.15" y2="420.40" stroke="#e3b5a9" stroke-width="0.9"/>
<line x1="88.00" y1="407.69" x2="88.00" y2="422.51" stroke="#e3b5a9" stroke-width="0.9"/>
<line x1="85.60" y1="407.69" x2="90.40" y2="407.69" stroke="#e3b5a9" stroke-width="0.9"/>
<line x1="85.60" y1="422.51" x2="90.40" y2="422.51" stroke="#e3b5a9" stroke-width="0.9"/>
<line x1="95.25" y1="418.28" x2="95.25" y2="430.99" stroke="#e3b5a9" stroke-width="0.9"/>
<line x1="92.85" y1="418.28" x2="97.65" y2="418.28" stroke="#e3b5a9" stroke-width="0.9"/>
<line x1="92.85" y1="430.99" x2="97.65" y2="430.99" stroke="#e3b5a9" stroke-width="0.9"/>
<line x1="102.50" y1="419.02" x2="102.50" y2="433.85" stroke="#e3b5a9" stroke-width="0.9"/>
<line x1="100.10" y1="419.02" x2="104.90" y2="419.02" stroke="#e3b5a9" stroke-width="0.9"/>
<line x1="100.10" y1="433.85" x2="104.90" y2="433.85" stroke="#e3b5a9" stroke-width="0.9"/>
<line x1="109.75" y1="418.17" x2="109.75" y2="435.12" stroke="#e3b5a9" stroke-width="0.9"/>
<line x1="107.35" y1="418.17" x2="112.15" y2="418.17" stroke="#e3b5a9" stroke-width="0.9"/>
<line x1="107.35" y1="435.12" x2="112.15" y2="435.12" stroke="#e3b5a9" stroke-width="0.9"/>
<line x1="117.00" y1="419.34" x2="117.00" y2="434.16" stroke="#e3b5a9" stroke-width="0.9"/>
<line x1="114.60" y1="419.34" x2="119.40" y2="419.34" stroke="#e3b5a9" stroke-width="0.9"/>
<line x1="114.60" y1="434.16" x2="119.40" y2="434.16" stroke="#e3b5a9" stroke-width="0.9"/>
<line x1="124.25" y1="419.55" x2="124.25" y2="434.37" stroke="#e3b5a9" stroke-width="0.9"/>
<line x1="121.85" y1="419.55" x2="126.65" y2="419.55" stroke="#e3b5a9" stroke-width="0.9"/>
<line x1="121.85" y1="434.37" x2="126.65" y2="434.37" stroke="#e3b5a9" stroke-width="0.9"/>
<line x1="131.50" y1="420.71" x2="131.50" y2="433.42" stroke="#e3b5a9" stroke-width="0.9"/>
<line x1="129.10" y1="420.71" x2="133.90" y2="420.71" stroke="#e3b5a9" stroke-width="0.9"/>
<line x1="129.10" y1="433.42" x2="133.90" y2="433.42" stroke="#e3b5a9" stroke-width="0.9"/>
<line x1="138.75" y1="420.82" x2="138.75" y2="433.53" stroke="#e3b5a9" stroke-width="0.9"/>
<line x1="136.35" y1="420.82" x2="141.15" y2="420.82" stroke="#e3b5a9" stroke-width="0.9"/>
<line x1="136.35" y1="433.53" x2="141.15" y2="433.53" stroke="#e3b5a9" stroke-width="0.9"/>
<line x1="146.00" y1="422.62" x2="146.00" y2="433.21" stroke="#e3b5a9" stroke-width="0.9"/>
<line x1="143.60" y1="422.62" x2="148.40" y2="422.62" stroke="#e3b5a9" stroke-width="0.9"/>
<line x1="143.60" y1="433.21" x2="148.40" y2="433.21" stroke="#e3b5a9" stroke-width="0.9"/>
<line x1="153.25" y1="424.42" x2="153.25" y2="432.89" stroke="#e3b5a9" stroke-width="0.9"/>
<line x1="150.85" y1="424.42" x2="155.65" y2="424.42" stroke="#e3b5a9" stroke-width="0.9"/>
<line x1="150.85" y1="432.89" x2="155.65" y2="432.89" stroke="#e3b5a9" stroke-width="0.9"/>
<line x1="160.50" y1="425.37" x2="160.50" y2="433.85" stroke="#e3b5a9" stroke-width="0.9"/>
<line x1="158.10" y1="425.37" x2="162.90" y2="425.37" stroke="#e3b5a9" stroke-width="0.9"/>
<line x1="158.10" y1="433.85" x2="162.90" y2="433.85" stroke="#e3b5a9" stroke-width="0.9"/>
<line x1="167.75" y1="426.75" x2="167.75" y2="434.16" stroke="#e3b5a9" stroke-width="0.9"/>
<line x1="165.35" y1="426.75" x2="170.15" y2="426.75" stroke="#e3b5a9" stroke-width="0.9"/>
<line x1="165.35" y1="434.16" x2="170.15" y2="434.16" stroke="#e3b5a9" stroke-width="0.9"/>
<line x1="175.00" y1="427.70" x2="175.00" y2="435.12" stroke="#e3b5a9" stroke-width="0.9"/>
<line x1="172.60" y1="427.70" x2="177.40" y2="427.70" stroke="#e3b5a9" stroke-width="0.9"/>
<line x1="172.60" y1="435.12" x2="177.40" y2="435.12" stroke="#e3b5a9" stroke-width="0.9"/>
<line x1="182.25" y1="429.19" x2="182.25" y2="435.54" stroke="#e3b5a9" stroke-width="0.9"/>
<line x1="179.85" y1="429.19" x2="184.65" y2="429.19" stroke="#e3b5a9" stroke-width="0.9"/>
<line x1="179.85" y1="435.54" x2="184.65" y2="435.54" stroke="#e3b5a9" stroke-width="0.9"/>
<line x1="189.50" y1="430.24" x2="189.50" y2="436.60" stroke="#e3b5a9" stroke-width="0.9"/>
<line x1="187.10" y1="430.24" x2="191.90" y2="430.24" stroke="#e3b5a9" stroke-width="0.9"/>
<line x1="187.10" y1="436.60" x2="191.90" y2="436.60" stroke="#e3b5a9" stroke-width="0.9"/>
<line x1="196.75" y1="431.20" x2="196.75" y2="437.55" stroke="#e3b5a9" stroke-width="0.9"/>
<line x1="194.35" y1="431.20" x2="199.15" y2="431.20" stroke="#e3b5a9" stroke-width="0.9"/>
<line x1="194.35" y1="437.55" x2="199.15" y2="437.55" stroke="#e3b5a9" stroke-width="0.9"/>
<line x1="204.00" y1="431.83" x2="204.00" y2="438.19" stroke="#e3b5a9" stroke-width="0.9"/>
<line x1="201.60" y1="431.83" x2="206.40" y2="431.83" stroke="#e3b5a9" stroke-width="0.9"/>
<line x1="201.60" y1="438.19" x2="206.40" y2="438.19" stroke="#e3b5a9" stroke-width="0.9"/>
<line x1="211.25" y1="432.57" x2="211.25" y2="438.50" stroke="#e3b5a9" stroke-width="0.9"/>
<line x1="208.85" y1="432.57" x2="213.65" y2="432.57" stroke="#e3b5a9" stroke-width="0.9"/>
<line x1="208.85" y1="438.50" x2="213.65" y2="438.50" stroke="#e3b5a9" stroke-width="0.9"/>
<line x1="218.50" y1="433.21" x2="218.50" y2="439.14" stroke="#e3b5a9" stroke-width="0.9"/>
<line x1="216.10" y1="433.21" x2="220.90" y2="433.21" stroke="#e3b5a9" stroke-width="0.9"/>
<line x1="216.10" y1="439.14" x2="220.90" y2="439.14" stroke="#e3b5a9" stroke-width="0.9"/>
<line x1="225.75" y1="433.95" x2="225.75" y2="439.46" stroke="#e3b5a9" stroke-width="0.9"/>
<line x1="223.35" y1="433.95" x2="228.15" y2="433.95" stroke="#e3b5a9" stroke-width="0.9"/>
<line x1="223.35" y1="439.46" x2="228.15" y2="439.46" stroke="#e3b5a9" stroke-width="0.9"/>
<line x1="233.00" y1="434.48" x2="233.00" y2="439.99" stroke="#e3b5a9" stroke-width="0.9"/>
<line x1="230.60" y1="434.48" x2="235.40" y2="434.48" stroke="#e3b5a9" stroke-width="0.9"/>
<line x1="230.60" y1="439.99" x2="235.40" y2="439.99" stroke="#e3b5a9" stroke-width="0.9"/>
<line x1="240.25" y1="435.12" x2="240.25" y2="440.41" stroke="#e3b5a9" stroke-width="0.9"/>
<line x1="237.85" y1="435.12" x2="242.65" y2="435.12" stroke="#e3b5a9" stroke-width="0.9"/>
<line x1="237.85" y1="440.41" x2="242.65" y2="440.41" stroke="#e3b5a9" stroke-width="0.9"/>
<line x1="247.50" y1="435.65" x2="247.50" y2="440.94" stroke="#e3b5a9" stroke-width="0.9"/>
<line x1="245.10" y1="435.65" x2="249.90" y2="435.65" stroke="#e3b5a9" stroke-width="0.9"/>
<line x1="245.10" y1="440.94" x2="249.90" y2="440.94" stroke="#e3b5a9" stroke-width="0.9"/>
<line x1="254.75" y1="436.28" x2="254.75" y2="441.36" stroke="#e3b5a9" stroke-width="0.9"/>
<line x1="252.35" y1="436.28" x2="257.15" y2="436.28" stroke="#e3b5a9" stroke-width="0.9"/>
<line x1="252.35" y1="441.36" x2="257.15" y2="441.36" stroke="#e3b5a9" stroke-width="0.9"/>
<line x1="262.00" y1="436.81" x2="262.00" y2="441.89" stroke="#e3b5a9" stroke-width="0.9"/>
<line x1="259.60" y1="436.81" x2="264.40" y2="436.81" stroke="#e3b5a9" stroke-width="0.9"/>
<line x1="259.60" y1="441.89" x2="264.40" y2="441.89" stroke="#e3b5a9" stroke-width="0.9"/>
<line x1="269.25" y1="437.34" x2="269.25" y2="442.21" stroke="#e3b5a9" stroke-width="0.9"/>
<line x1="266.85" y1="437.34" x2="271.65" y2="437.34" stroke="#e3b5a9" stroke-width="0.9"/>
<line x1="266.85" y1="442.21" x2="271.65" y2="442.21" stroke="#e3b5a9" stroke-width="0.9"/>
<line x1="276.50" y1="437.87" x2="276.50" y2="442.74" stroke="#e3b5a9" stroke-width="0.9"/>
<line x1="274.10" y1="437.87" x2="278.90" y2="437.87" stroke="#e3b5a9" stroke-width="0.9"/>
<line x1="274.10" y1="442.74" x2="278.90" y2="442.74" stroke="#e3b5a9" stroke-width="0.9"/>
<line x1="283.75" y1="438.50" x2="283.75" y2="443.16" stroke="#e3b5a9" stroke-width="0.9"/>
<line x1="281.35" y1="438.50" x2="286.15" y2="438.50" stroke="#e3b5a9" stroke-width="0.9"/>
<line x1="281.35" y1="443.16" x2="286.15" y2="443.16" stroke="#e3b5a9" stroke-width="0.9"/>
<line x1="291.00" y1="439.03" x2="291.00" y2="443.69" stroke="#e3b5a9" stroke-width="0.9"/>
<line x1="288.60" y1="439.03" x2="293.40" y2="439.03" stroke="#e3b5a9" stroke-width="0.9"/>
<line x1="288.60" y1="443.69" x2="293.40" y2="443.69" stroke="#e3b5a9" stroke-width="0.9"/>
<line x1="298.25" y1="439.56" x2="298.25" y2="444.22" stroke="#e3b5a9" stroke-width="0.9"/>
<line x1="295.85" y1="439.56" x2="300.65" y2="439.56" stroke="#e3b5a9" stroke-width="0.9"/>
<line x1="295.85" y1="444.22" x2="300.65" y2="444.22" stroke="#e3b5a9" stroke-width="0.9"/>
<line x1="305.50" y1="440.20" x2="305.50" y2="444.86" stroke="#e3b5a9" stroke-width="0.9"/>
<line x1="303.10" y1="440.20" x2="307.90" y2="440.20" stroke="#e3b5a9" stroke-width="0.9"/>
<line x1="303.10" y1="444.86" x2="307.90" y2="444.86" stroke="#e3b5a9" stroke-width="0.9"/>
<line x1="312.75" y1="440.73" x2="312.75" y2="445.39" stroke="#e3b5a9" stroke-width="0.9"/>
<line x1="310.35" y1="440.73" x2="315.15" y2="440.73" stroke="#e3b5a9" stroke-width="0.9"/>
<line x1="310.35" y1="445.39" x2="315.15" y2="445.39" stroke="#e3b5a9" stroke-width="0.9"/>
<line x1="320.00" y1="441.26" x2="320.00" y2="445.92" stroke="#e3b5a9" stroke-width="0.9"/>
<line x1="317.60" y1="441.26" x2="322.40" y2="441.26" stroke="#e3b5a9" stroke-width="0.9"/>
<line x1="317.60" y1="445.92" x2="322.40" y2="445.92" stroke="#e3b5a9" stroke-width="0.9"/>
<line x1="327.25" y1="441.68" x2="327.25" y2="446.34" stroke="#e3b5a9" stroke-width="0.9"/>
<line x1="324.85" y1="441.68" x2="329.65" y2="441.68" stroke="#e3b5a9" stroke-width="0.9"/>
<line x1="324.85" y1="446.34" x2="329.65" y2="446.34" stroke="#e3b5a9" stroke-width="0.9"/>
<line x1="334.50" y1="442.21" x2="334.50" y2="446.87" stroke="#e3b5a9" stroke-width="0.9"/>
<line x1="332.10" y1="442.21" x2="336.90" y2="442.21" stroke="#e3b5a9" stroke-width="0.9"/>
<line x1="332.10" y1="446.87" x2="336.90" y2="446.87" stroke="#e3b5a9" stroke-width="0.9"/>
<line x1="341.75" y1="442.63" x2="341.75" y2="447.29" stroke="#e3b5a9" stroke-width="0.9"/>
<line x1="339.35" y1="442.63" x2="344.15" y2="442.63" stroke="#e3b5a9" stroke-width="0.9"/>
<line x1="339.35" y1="447.29" x2="344.15" y2="447.29" stroke="#e3b5a9" stroke-width="0.9"/>
<line x1="349.00" y1="443.06" x2="349.00" y2="447.72" stroke="#e3b5a9" stroke-width="0.9"/>
<line x1="346.60" y1="443.06" x2="351.40" y2="443.06" stroke="#e3b5a9" stroke-width="0.9"/>
<line x1="346.60" y1="447.72" x2="351.40" y2="447.72" stroke="#e3b5a9" stroke-width="0.9"/>
<line x1="356.25" y1="443.59" x2="356.25" y2="448.25" stroke="#e3b5a9" stroke-width="0.9"/>
<line x1="353.85" y1="443.59" x2="358.65" y2="443.59" stroke="#e3b5a9" stroke-width="0.9"/>
<line x1="353.85" y1="448.25" x2="358.65" y2="448.25" stroke="#e3b5a9" stroke-width="0.9"/>
<line x1="363.50" y1="444.01" x2="363.50" y2="448.67" stroke="#e3b5a9" stroke-width="0.9"/>
<line x1="361.10" y1="444.01" x2="365.90" y2="444.01" stroke="#e3b5a9" stroke-width="0.9"/>
<line x1="361.10" y1="448.67" x2="365.90" y2="448.67" stroke="#e3b5a9" stroke-width="0.9"/>
<line x1="370.75" y1="444.44" x2="370.75" y2="449.09" stroke="#e3b5a9" stroke-width="0.9"/>
<line x1="368.35" y1="444.44" x2="373.15" y2="444.44" stroke="#e3b5a9" stroke-width="0.9"/>
<line x1="368.35" y1="449.09" x2="373.15" y2="449.09" stroke="#e3b5a9" stroke-width="0.9"/>
<polyline points="51.75,405.57 59.00,402.39 66.25,412.98 73.50,424.63 80.75,416.16 88.00,415.10 95.25,424.63 102.50,426.43 109.75,426.64 117.00,426.75 124.25,426.96 131.50,427.07 138.75,427.17 146.00,427.91 153.25,428.66 160.50,429.61 167.75,430.46 175.00,431.41 182.25,432.36 189.50,433.42 196.75,434.37 204.00,435.01 211.25,435.54 218.50,436.18 225.75,436.70 233.00,437.23 240.25,437.76 247.50,438.29 254.75,438.82 262.00,439.35 269.25,439.78 276.50,440.31 283.75,440.83 291.00,441.36 298.25,441.89 305.50,442.53 312.75,443.06 320.00,443.59 327.25,444.01 334.50,444.54 341.75,444.96 349.00,445.39 356.25,445.92 363.50,446.34 370.75,446.77" fill="none" stroke="#d4472a" stroke-width="1.8" stroke-linejoin="round"/>
<path d="M51.75 407.88 L54.05 403.68 L49.45 403.68 Z" fill="#fff" stroke="#d4472a" stroke-width="1.0" stroke-linejoin="round"/>
<path d="M59.00 404.70 L61.30 400.50 L56.70 400.50 Z" fill="#fff" stroke="#d4472a" stroke-width="1.0" stroke-linejoin="round"/>
<path d="M66.25 415.29 L68.55 411.09 L63.95 411.09 Z" fill="#fff" stroke="#d4472a" stroke-width="1.0" stroke-linejoin="round"/>
<path d="M73.50 426.94 L75.80 422.74 L71.20 422.74 Z" fill="#fff" stroke="#d4472a" stroke-width="1.0" stroke-linejoin="round"/>
<path d="M80.75 418.47 L83.05 414.27 L78.45 414.27 Z" fill="#fff" stroke="#d4472a" stroke-width="1.0" stroke-linejoin="round"/>
<path d="M88.00 417.41 L90.30 413.21 L85.70 413.21 Z" fill="#fff" stroke="#d4472a" stroke-width="1.0" stroke-linejoin="round"/>
<path d="M95.25 426.94 L97.55 422.74 L92.95 422.74 Z" fill="#fff" stroke="#d4472a" stroke-width="1.0" stroke-linejoin="round"/>
<path d="M102.50 428.74 L104.80 424.54 L100.20 424.54 Z" fill="#fff" stroke="#d4472a" stroke-width="1.0" stroke-linejoin="round"/>
<path d="M109.75 428.95 L112.05 424.75 L107.45 424.75 Z" fill="#fff" stroke="#d4472a" stroke-width="1.0" stroke-linejoin="round"/>
<path d="M117.00 429.06 L119.30 424.86 L114.70 424.86 Z" fill="#fff" stroke="#d4472a" stroke-width="1.0" stroke-linejoin="round"/>
<path d="M124.25 429.27 L126.55 425.07 L121.95 425.07 Z" fill="#fff" stroke="#d4472a" stroke-width="1.0" stroke-linejoin="round"/>
<path d="M131.50 429.38 L133.80 425.18 L129.20 425.18 Z" fill="#fff" stroke="#d4472a" stroke-width="1.0" stroke-linejoin="round"/>
<path d="M138.75 429.48 L141.05 425.28 L136.45 425.28 Z" fill="#fff" stroke="#d4472a" stroke-width="1.0" stroke-linejoin="round"/>
<path d="M146.00 430.22 L148.30 426.02 L143.70 426.02 Z" fill="#fff" stroke="#d4472a" stroke-width="1.0" stroke-linejoin="round"/>
<path d="M153.25 430.97 L155.55 426.77 L150.95 426.77 Z" fill="#fff" stroke="#d4472a" stroke-width="1.0" stroke-linejoin="round"/>
<path d="M160.50 431.92 L162.80 427.72 L158.20 427.72 Z" fill="#fff" stroke="#d4472a" stroke-width="1.0" stroke-linejoin="round"/>
<path d="M167.75 432.77 L170.05 428.57 L165.45 428.57 Z" fill="#fff" stroke="#d4472a" stroke-width="1.0" stroke-linejoin="round"/>
<path d="M175.00 433.72 L177.30 429.52 L172.70 429.52 Z" fill="#fff" stroke="#d4472a" stroke-width="1.0" stroke-linejoin="round"/>
<path d="M182.25 434.67 L184.55 430.47 L179.95 430.47 Z" fill="#fff" stroke="#d4472a" stroke-width="1.0" stroke-linejoin="round"/>
<path d="M189.50 435.73 L191.80 431.53 L187.20 431.53 Z" fill="#fff" stroke="#d4472a" stroke-width="1.0" stroke-linejoin="round"/>
<path d="M196.75 436.68 L199.05 432.48 L194.45 432.48 Z" fill="#fff" stroke="#d4472a" stroke-width="1.0" stroke-linejoin="round"/>
<path d="M204.00 437.32 L206.30 433.12 L201.70 433.12 Z" fill="#fff" stroke="#d4472a" stroke-width="1.0" stroke-linejoin="round"/>
<path d="M211.25 437.85 L213.55 433.65 L208.95 433.65 Z" fill="#fff" stroke="#d4472a" stroke-width="1.0" stroke-linejoin="round"/>
<path d="M218.50 438.49 L220.80 434.29 L216.20 434.29 Z" fill="#fff" stroke="#d4472a" stroke-width="1.0" stroke-linejoin="round"/>
<path d="M225.75 439.01 L228.05 434.81 L223.45 434.81 Z" fill="#fff" stroke="#d4472a" stroke-width="1.0" stroke-linejoin="round"/>
<path d="M233.00 439.54 L235.30 435.34 L230.70 435.34 Z" fill="#fff" stroke="#d4472a" stroke-width="1.0" stroke-linejoin="round"/>
<path d="M240.25 440.07 L242.55 435.87 L237.95 435.87 Z" fill="#fff" stroke="#d4472a" stroke-width="1.0" stroke-linejoin="round"/>
<path d="M247.50 440.60 L249.80 436.40 L245.20 436.40 Z" fill="#fff" stroke="#d4472a" stroke-width="1.0" stroke-linejoin="round"/>
<path d="M254.75 441.13 L257.05 436.93 L252.45 436.93 Z" fill="#fff" stroke="#d4472a" stroke-width="1.0" stroke-linejoin="round"/>
<path d="M262.00 441.66 L264.30 437.46 L259.70 437.46 Z" fill="#fff" stroke="#d4472a" stroke-width="1.0" stroke-linejoin="round"/>
<path d="M269.25 442.09 L271.55 437.89 L266.95 437.89 Z" fill="#fff" stroke="#d4472a" stroke-width="1.0" stroke-linejoin="round"/>
<path d="M276.50 442.62 L278.80 438.42 L274.20 438.42 Z" fill="#fff" stroke="#d4472a" stroke-width="1.0" stroke-linejoin="round"/>
<path d="M283.75 443.14 L286.05 438.94 L281.45 438.94 Z" fill="#fff" stroke="#d4472a" stroke-width="1.0" stroke-linejoin="round"/>
<path d="M291.00 443.67 L293.30 439.47 L288.70 439.47 Z" fill="#fff" stroke="#d4472a" stroke-width="1.0" stroke-linejoin="round"/>
<path d="M298.25 444.20 L300.55 440.00 L295.95 440.00 Z" fill="#fff" stroke="#d4472a" stroke-width="1.0" stroke-linejoin="round"/>
<path d="M305.50 444.84 L307.80 440.64 L303.20 440.64 Z" fill="#fff" stroke="#d4472a" stroke-width="1.0" stroke-linejoin="round"/>
<path d="M312.75 445.37 L315.05 441.17 L310.45 441.17 Z" fill="#fff" stroke="#d4472a" stroke-width="1.0" stroke-linejoin="round"/>
<path d="M320.00 445.90 L322.30 441.70 L317.70 441.70 Z" fill="#fff" stroke="#d4472a" stroke-width="1.0" stroke-linejoin="round"/>
<path d="M327.25 446.32 L329.55 442.12 L324.95 442.12 Z" fill="#fff" stroke="#d4472a" stroke-width="1.0" stroke-linejoin="round"/>
<path d="M334.50 446.85 L336.80 442.65 L332.20 442.65 Z" fill="#fff" stroke="#d4472a" stroke-width="1.0" stroke-linejoin="round"/>
<path d="M341.75 447.27 L344.05 443.07 L339.45 443.07 Z" fill="#fff" stroke="#d4472a" stroke-width="1.0" stroke-linejoin="round"/>
<path d="M349.00 447.70 L351.30 443.50 L346.70 443.50 Z" fill="#fff" stroke="#d4472a" stroke-width="1.0" stroke-linejoin="round"/>
<path d="M356.25 448.23 L358.55 444.03 L353.95 444.03 Z" fill="#fff" stroke="#d4472a" stroke-width="1.0" stroke-linejoin="round"/>
<path d="M363.50 448.65 L365.80 444.45 L361.20 444.45 Z" fill="#fff" stroke="#d4472a" stroke-width="1.0" stroke-linejoin="round"/>
<path d="M370.75 449.08 L373.05 444.88 L368.45 444.88 Z" fill="#fff" stroke="#d4472a" stroke-width="1.0" stroke-linejoin="round"/>
<line x1="51.75" y1="409.81" x2="51.75" y2="411.92" stroke="#9a9a9a" stroke-width="0.9"/>
<line x1="49.35" y1="409.81" x2="54.15" y2="409.81" stroke="#9a9a9a" stroke-width="0.9"/>
<line x1="49.35" y1="411.92" x2="54.15" y2="411.92" stroke="#9a9a9a" stroke-width="0.9"/>
<line x1="59.00" y1="414.04" x2="59.00" y2="416.16" stroke="#9a9a9a" stroke-width="0.9"/>
<line x1="56.60" y1="414.04" x2="61.40" y2="414.04" stroke="#9a9a9a" stroke-width="0.9"/>
<line x1="56.60" y1="416.16" x2="61.40" y2="416.16" stroke="#9a9a9a" stroke-width="0.9"/>
<line x1="66.25" y1="421.45" x2="66.25" y2="423.57" stroke="#9a9a9a" stroke-width="0.9"/>
<line x1="63.85" y1="421.45" x2="68.65" y2="421.45" stroke="#9a9a9a" stroke-width="0.9"/>
<line x1="63.85" y1="423.57" x2="68.65" y2="423.57" stroke="#9a9a9a" stroke-width="0.9"/>
<line x1="73.50" y1="428.87" x2="73.50" y2="433.10" stroke="#9a9a9a" stroke-width="0.9"/>
<line x1="71.10" y1="428.87" x2="75.90" y2="428.87" stroke="#9a9a9a" stroke-width="0.9"/>
<line x1="71.10" y1="433.10" x2="75.90" y2="433.10" stroke="#9a9a9a" stroke-width="0.9"/>
<line x1="80.75" y1="418.81" x2="80.75" y2="421.98" stroke="#9a9a9a" stroke-width="0.9"/>
<line x1="78.35" y1="418.81" x2="83.15" y2="418.81" stroke="#9a9a9a" stroke-width="0.9"/>
<line x1="78.35" y1="421.98" x2="83.15" y2="421.98" stroke="#9a9a9a" stroke-width="0.9"/>
<line x1="88.00" y1="422.51" x2="88.00" y2="433.10" stroke="#9a9a9a" stroke-width="0.9"/>
<line x1="85.60" y1="422.51" x2="90.40" y2="422.51" stroke="#9a9a9a" stroke-width="0.9"/>
<line x1="85.60" y1="433.10" x2="90.40" y2="433.10" stroke="#9a9a9a" stroke-width="0.9"/>
<line x1="95.25" y1="435.22" x2="95.25" y2="445.81" stroke="#9a9a9a" stroke-width="0.9"/>
<line x1="92.85" y1="435.22" x2="97.65" y2="435.22" stroke="#9a9a9a" stroke-width="0.9"/>
<line x1="92.85" y1="445.81" x2="97.65" y2="445.81" stroke="#9a9a9a" stroke-width="0.9"/>
<line x1="102.50" y1="444.75" x2="102.50" y2="453.23" stroke="#9a9a9a" stroke-width="0.9"/>
<line x1="100.10" y1="444.75" x2="104.90" y2="444.75" stroke="#9a9a9a" stroke-width="0.9"/>
<line x1="100.10" y1="453.23" x2="104.90" y2="453.23" stroke="#9a9a9a" stroke-width="0.9"/>
<line x1="109.75" y1="452.17" x2="109.75" y2="460.64" stroke="#9a9a9a" stroke-width="0.9"/>
<line x1="107.35" y1="452.17" x2="112.15" y2="452.17" stroke="#9a9a9a" stroke-width="0.9"/>
<line x1="107.35" y1="460.64" x2="112.15" y2="460.64" stroke="#9a9a9a" stroke-width="0.9"/>
<line x1="117.00" y1="457.99" x2="117.00" y2="465.40" stroke="#9a9a9a" stroke-width="0.9"/>
<line x1="114.60" y1="457.99" x2="119.40" y2="457.99" stroke="#9a9a9a" stroke-width="0.9"/>
<line x1="114.60" y1="465.40" x2="119.40" y2="465.40" stroke="#9a9a9a" stroke-width="0.9"/>
<line x1="124.25" y1="460.11" x2="124.25" y2="467.52" stroke="#9a9a9a" stroke-width="0.9"/>
<line x1="121.85" y1="460.11" x2="126.65" y2="460.11" stroke="#9a9a9a" stroke-width="0.9"/>
<line x1="121.85" y1="467.52" x2="126.65" y2="467.52" stroke="#9a9a9a" stroke-width="0.9"/>
<line x1="131.50" y1="462.76" x2="131.50" y2="473.35" stroke="#9a9a9a" stroke-width="0.9"/>
<line x1="129.10" y1="462.76" x2="133.90" y2="462.76" stroke="#9a9a9a" stroke-width="0.9"/>
<line x1="129.10" y1="473.35" x2="133.90" y2="473.35" stroke="#9a9a9a" stroke-width="0.9"/>
<line x1="138.75" y1="464.34" x2="138.75" y2="469.64" stroke="#9a9a9a" stroke-width="0.9"/>
<line x1="136.35" y1="464.34" x2="141.15" y2="464.34" stroke="#9a9a9a" stroke-width="0.9"/>
<line x1="136.35" y1="469.64" x2="141.15" y2="469.64" stroke="#9a9a9a" stroke-width="0.9"/>
<line x1="146.00" y1="466.99" x2="146.00" y2="473.35" stroke="#9a9a9a" stroke-width="0.9"/>
<line x1="143.60" y1="466.99" x2="148.40" y2="466.99" stroke="#9a9a9a" stroke-width="0.9"/>
<line x1="143.60" y1="473.35" x2="148.40" y2="473.35" stroke="#9a9a9a" stroke-width="0.9"/>
<line x1="153.25" y1="463.81" x2="153.25" y2="469.11" stroke="#9a9a9a" stroke-width="0.9"/>
<line x1="150.85" y1="463.81" x2="155.65" y2="463.81" stroke="#9a9a9a" stroke-width="0.9"/>
<line x1="150.85" y1="469.11" x2="155.65" y2="469.11" stroke="#9a9a9a" stroke-width="0.9"/>
<line x1="160.50" y1="474.40" x2="160.50" y2="477.58" stroke="#9a9a9a" stroke-width="0.9"/>
<line x1="158.10" y1="474.40" x2="162.90" y2="474.40" stroke="#9a9a9a" stroke-width="0.9"/>
<line x1="158.10" y1="477.58" x2="162.90" y2="477.58" stroke="#9a9a9a" stroke-width="0.9"/>
<line x1="167.75" y1="468.90" x2="167.75" y2="471.44" stroke="#9a9a9a" stroke-width="0.9"/>
<line x1="165.35" y1="468.90" x2="170.15" y2="468.90" stroke="#9a9a9a" stroke-width="0.9"/>
<line x1="165.35" y1="471.44" x2="170.15" y2="471.44" stroke="#9a9a9a" stroke-width="0.9"/>
<line x1="175.00" y1="468.90" x2="175.00" y2="471.44" stroke="#9a9a9a" stroke-width="0.9"/>
<line x1="172.60" y1="468.90" x2="177.40" y2="468.90" stroke="#9a9a9a" stroke-width="0.9"/>
<line x1="172.60" y1="471.44" x2="177.40" y2="471.44" stroke="#9a9a9a" stroke-width="0.9"/>
<line x1="182.25" y1="468.90" x2="182.25" y2="471.44" stroke="#9a9a9a" stroke-width="0.9"/>
<line x1="179.85" y1="468.90" x2="184.65" y2="468.90" stroke="#9a9a9a" stroke-width="0.9"/>
<line x1="179.85" y1="471.44" x2="184.65" y2="471.44" stroke="#9a9a9a" stroke-width="0.9"/>
<line x1="189.50" y1="469.43" x2="189.50" y2="471.97" stroke="#9a9a9a" stroke-width="0.9"/>
<line x1="187.10" y1="469.43" x2="191.90" y2="469.43" stroke="#9a9a9a" stroke-width="0.9"/>
<line x1="187.10" y1="471.97" x2="191.90" y2="471.97" stroke="#9a9a9a" stroke-width="0.9"/>
<line x1="196.75" y1="467.84" x2="196.75" y2="470.38" stroke="#9a9a9a" stroke-width="0.9"/>
<line x1="194.35" y1="467.84" x2="199.15" y2="467.84" stroke="#9a9a9a" stroke-width="0.9"/>
<line x1="194.35" y1="470.38" x2="199.15" y2="470.38" stroke="#9a9a9a" stroke-width="0.9"/>
<line x1="204.00" y1="469.64" x2="204.00" y2="471.76" stroke="#9a9a9a" stroke-width="0.9"/>
<line x1="201.60" y1="469.64" x2="206.40" y2="469.64" stroke="#9a9a9a" stroke-width="0.9"/>
<line x1="201.60" y1="471.76" x2="206.40" y2="471.76" stroke="#9a9a9a" stroke-width="0.9"/>
<line x1="211.25" y1="470.70" x2="211.25" y2="472.82" stroke="#9a9a9a" stroke-width="0.9"/>
<line x1="208.85" y1="470.70" x2="213.65" y2="470.70" stroke="#9a9a9a" stroke-width="0.9"/>
<line x1="208.85" y1="472.82" x2="213.65" y2="472.82" stroke="#9a9a9a" stroke-width="0.9"/>
<line x1="218.50" y1="470.70" x2="218.50" y2="472.82" stroke="#9a9a9a" stroke-width="0.9"/>
<line x1="216.10" y1="470.70" x2="220.90" y2="470.70" stroke="#9a9a9a" stroke-width="0.9"/>
<line x1="216.10" y1="472.82" x2="220.90" y2="472.82" stroke="#9a9a9a" stroke-width="0.9"/>
<line x1="225.75" y1="470.70" x2="225.75" y2="472.82" stroke="#9a9a9a" stroke-width="0.9"/>
<line x1="223.35" y1="470.70" x2="228.15" y2="470.70" stroke="#9a9a9a" stroke-width="0.9"/>
<line x1="223.35" y1="472.82" x2="228.15" y2="472.82" stroke="#9a9a9a" stroke-width="0.9"/>
<line x1="233.00" y1="469.64" x2="233.00" y2="472.82" stroke="#9a9a9a" stroke-width="0.9"/>
<line x1="230.60" y1="469.64" x2="235.40" y2="469.64" stroke="#9a9a9a" stroke-width="0.9"/>
<line x1="230.60" y1="472.82" x2="235.40" y2="472.82" stroke="#9a9a9a" stroke-width="0.9"/>
<line x1="240.25" y1="468.05" x2="240.25" y2="472.29" stroke="#9a9a9a" stroke-width="0.9"/>
<line x1="237.85" y1="468.05" x2="242.65" y2="468.05" stroke="#9a9a9a" stroke-width="0.9"/>
<line x1="237.85" y1="472.29" x2="242.65" y2="472.29" stroke="#9a9a9a" stroke-width="0.9"/>
<line x1="247.50" y1="466.99" x2="247.50" y2="472.29" stroke="#9a9a9a" stroke-width="0.9"/>
<line x1="245.10" y1="466.99" x2="249.90" y2="466.99" stroke="#9a9a9a" stroke-width="0.9"/>
<line x1="245.10" y1="472.29" x2="249.90" y2="472.29" stroke="#9a9a9a" stroke-width="0.9"/>
<line x1="254.75" y1="466.99" x2="254.75" y2="472.29" stroke="#9a9a9a" stroke-width="0.9"/>
<line x1="252.35" y1="466.99" x2="257.15" y2="466.99" stroke="#9a9a9a" stroke-width="0.9"/>
<line x1="252.35" y1="472.29" x2="257.15" y2="472.29" stroke="#9a9a9a" stroke-width="0.9"/>
<line x1="262.00" y1="467.52" x2="262.00" y2="472.82" stroke="#9a9a9a" stroke-width="0.9"/>
<line x1="259.60" y1="467.52" x2="264.40" y2="467.52" stroke="#9a9a9a" stroke-width="0.9"/>
<line x1="259.60" y1="472.82" x2="264.40" y2="472.82" stroke="#9a9a9a" stroke-width="0.9"/>
<line x1="269.25" y1="468.05" x2="269.25" y2="472.29" stroke="#9a9a9a" stroke-width="0.9"/>
<line x1="266.85" y1="468.05" x2="271.65" y2="468.05" stroke="#9a9a9a" stroke-width="0.9"/>
<line x1="266.85" y1="472.29" x2="271.65" y2="472.29" stroke="#9a9a9a" stroke-width="0.9"/>
<line x1="276.50" y1="466.99" x2="276.50" y2="471.23" stroke="#9a9a9a" stroke-width="0.9"/>
<line x1="274.10" y1="466.99" x2="278.90" y2="466.99" stroke="#9a9a9a" stroke-width="0.9"/>
<line x1="274.10" y1="471.23" x2="278.90" y2="471.23" stroke="#9a9a9a" stroke-width="0.9"/>
<line x1="283.75" y1="471.76" x2="283.75" y2="473.88" stroke="#9a9a9a" stroke-width="0.9"/>
<line x1="281.35" y1="471.76" x2="286.15" y2="471.76" stroke="#9a9a9a" stroke-width="0.9"/>
<line x1="281.35" y1="473.88" x2="286.15" y2="473.88" stroke="#9a9a9a" stroke-width="0.9"/>
<line x1="291.00" y1="470.70" x2="291.00" y2="472.82" stroke="#9a9a9a" stroke-width="0.9"/>
<line x1="288.60" y1="470.70" x2="293.40" y2="470.70" stroke="#9a9a9a" stroke-width="0.9"/>
<line x1="288.60" y1="472.82" x2="293.40" y2="472.82" stroke="#9a9a9a" stroke-width="0.9"/>
<line x1="298.25" y1="470.70" x2="298.25" y2="472.82" stroke="#9a9a9a" stroke-width="0.9"/>
<line x1="295.85" y1="470.70" x2="300.65" y2="470.70" stroke="#9a9a9a" stroke-width="0.9"/>
<line x1="295.85" y1="472.82" x2="300.65" y2="472.82" stroke="#9a9a9a" stroke-width="0.9"/>
<line x1="305.50" y1="470.70" x2="305.50" y2="472.82" stroke="#9a9a9a" stroke-width="0.9"/>
<line x1="303.10" y1="470.70" x2="307.90" y2="470.70" stroke="#9a9a9a" stroke-width="0.9"/>
<line x1="303.10" y1="472.82" x2="307.90" y2="472.82" stroke="#9a9a9a" stroke-width="0.9"/>
<line x1="312.75" y1="470.49" x2="312.75" y2="472.60" stroke="#9a9a9a" stroke-width="0.9"/>
<line x1="310.35" y1="470.49" x2="315.15" y2="470.49" stroke="#9a9a9a" stroke-width="0.9"/>
<line x1="310.35" y1="472.60" x2="315.15" y2="472.60" stroke="#9a9a9a" stroke-width="0.9"/>
<line x1="320.00" y1="470.49" x2="320.00" y2="472.60" stroke="#9a9a9a" stroke-width="0.9"/>
<line x1="317.60" y1="470.49" x2="322.40" y2="470.49" stroke="#9a9a9a" stroke-width="0.9"/>
<line x1="317.60" y1="472.60" x2="322.40" y2="472.60" stroke="#9a9a9a" stroke-width="0.9"/>
<line x1="327.25" y1="470.49" x2="327.25" y2="472.60" stroke="#9a9a9a" stroke-width="0.9"/>
<line x1="324.85" y1="470.49" x2="329.65" y2="470.49" stroke="#9a9a9a" stroke-width="0.9"/>
<line x1="324.85" y1="472.60" x2="329.65" y2="472.60" stroke="#9a9a9a" stroke-width="0.9"/>
<line x1="334.50" y1="470.49" x2="334.50" y2="472.60" stroke="#9a9a9a" stroke-width="0.9"/>
<line x1="332.10" y1="470.49" x2="336.90" y2="470.49" stroke="#9a9a9a" stroke-width="0.9"/>
<line x1="332.10" y1="472.60" x2="336.90" y2="472.60" stroke="#9a9a9a" stroke-width="0.9"/>
<line x1="341.75" y1="470.49" x2="341.75" y2="472.60" stroke="#9a9a9a" stroke-width="0.9"/>
<line x1="339.35" y1="470.49" x2="344.15" y2="470.49" stroke="#9a9a9a" stroke-width="0.9"/>
<line x1="339.35" y1="472.60" x2="344.15" y2="472.60" stroke="#9a9a9a" stroke-width="0.9"/>
<line x1="349.00" y1="470.49" x2="349.00" y2="472.60" stroke="#9a9a9a" stroke-width="0.9"/>
<line x1="346.60" y1="470.49" x2="351.40" y2="470.49" stroke="#9a9a9a" stroke-width="0.9"/>
<line x1="346.60" y1="472.60" x2="351.40" y2="472.60" stroke="#9a9a9a" stroke-width="0.9"/>
<line x1="356.25" y1="470.49" x2="356.25" y2="472.60" stroke="#9a9a9a" stroke-width="0.9"/>
<line x1="353.85" y1="470.49" x2="358.65" y2="470.49" stroke="#9a9a9a" stroke-width="0.9"/>
<line x1="353.85" y1="472.60" x2="358.65" y2="472.60" stroke="#9a9a9a" stroke-width="0.9"/>
<line x1="363.50" y1="470.49" x2="363.50" y2="472.60" stroke="#9a9a9a" stroke-width="0.9"/>
<line x1="361.10" y1="470.49" x2="365.90" y2="470.49" stroke="#9a9a9a" stroke-width="0.9"/>
<line x1="361.10" y1="472.60" x2="365.90" y2="472.60" stroke="#9a9a9a" stroke-width="0.9"/>
<line x1="370.75" y1="470.49" x2="370.75" y2="472.60" stroke="#9a9a9a" stroke-width="0.9"/>
<line x1="368.35" y1="470.49" x2="373.15" y2="470.49" stroke="#9a9a9a" stroke-width="0.9"/>
<line x1="368.35" y1="472.60" x2="373.15" y2="472.60" stroke="#9a9a9a" stroke-width="0.9"/>
<polyline points="51.75,410.87 59.00,415.10 66.25,422.51 73.50,430.99 80.75,420.40 88.00,427.81 95.25,440.52 102.50,448.99 109.75,456.40 117.00,461.70 124.25,463.81 131.50,468.05 138.75,466.99 146.00,470.17 153.25,466.46 160.50,475.99 167.75,470.17 175.00,470.17 182.25,470.17 189.50,470.70 196.75,469.11 204.00,470.70 211.25,471.76 218.50,471.76 225.75,471.76 233.00,471.23 240.25,470.17 247.50,469.64 254.75,469.64 262.00,470.17 269.25,470.17 276.50,469.11 283.75,472.82 291.00,471.76 298.25,471.76 305.50,471.76 312.75,471.55 320.00,471.55 327.25,471.55 334.50,471.55 341.75,471.55 349.00,471.55 356.25,471.55 363.50,471.55 370.75,471.55" fill="none" stroke="#000" stroke-width="1.8" stroke-linejoin="round"/>
<path d="M51.75 408.74 L53.88 410.87 L51.75 412.99 L49.62 410.87 Z" fill="#000" stroke="#000" stroke-width="0.8"/>
<path d="M59.00 412.98 L61.12 415.10 L59.00 417.23 L56.88 415.10 Z" fill="#000" stroke="#000" stroke-width="0.8"/>
<path d="M66.25 420.39 L68.38 422.51 L66.25 424.64 L64.12 422.51 Z" fill="#000" stroke="#000" stroke-width="0.8"/>
<path d="M73.50 428.86 L75.62 430.99 L73.50 433.11 L71.38 430.99 Z" fill="#000" stroke="#000" stroke-width="0.8"/>
<path d="M80.75 418.27 L82.88 420.40 L80.75 422.52 L78.62 420.40 Z" fill="#000" stroke="#000" stroke-width="0.8"/>
<path d="M88.00 425.68 L90.12 427.81 L88.00 429.93 L85.88 427.81 Z" fill="#000" stroke="#000" stroke-width="0.8"/>
<path d="M95.25 438.39 L97.38 440.52 L95.25 442.64 L93.12 440.52 Z" fill="#000" stroke="#000" stroke-width="0.8"/>
<path d="M102.50 446.86 L104.62 448.99 L102.50 451.11 L100.38 448.99 Z" fill="#000" stroke="#000" stroke-width="0.8"/>
<path d="M109.75 454.28 L111.88 456.40 L109.75 458.53 L107.62 456.40 Z" fill="#000" stroke="#000" stroke-width="0.8"/>
<path d="M117.00 459.57 L119.12 461.70 L117.00 463.82 L114.88 461.70 Z" fill="#000" stroke="#000" stroke-width="0.8"/>
<path d="M124.25 461.69 L126.38 463.81 L124.25 465.94 L122.12 463.81 Z" fill="#000" stroke="#000" stroke-width="0.8"/>
<path d="M131.50 465.93 L133.62 468.05 L131.50 470.18 L129.38 468.05 Z" fill="#000" stroke="#000" stroke-width="0.8"/>
<path d="M138.75 464.87 L140.88 466.99 L138.75 469.12 L136.62 466.99 Z" fill="#000" stroke="#000" stroke-width="0.8"/>
<path d="M146.00 468.04 L148.12 470.17 L146.00 472.29 L143.88 470.17 Z" fill="#000" stroke="#000" stroke-width="0.8"/>
<path d="M153.25 464.34 L155.38 466.46 L153.25 468.59 L151.12 466.46 Z" fill="#000" stroke="#000" stroke-width="0.8"/>
<path d="M160.50 473.87 L162.62 475.99 L160.50 478.12 L158.38 475.99 Z" fill="#000" stroke="#000" stroke-width="0.8"/>
<path d="M167.75 468.04 L169.88 470.17 L167.75 472.29 L165.62 470.17 Z" fill="#000" stroke="#000" stroke-width="0.8"/>
<path d="M175.00 468.04 L177.12 470.17 L175.00 472.29 L172.88 470.17 Z" fill="#000" stroke="#000" stroke-width="0.8"/>
<path d="M182.25 468.04 L184.38 470.17 L182.25 472.29 L180.12 470.17 Z" fill="#000" stroke="#000" stroke-width="0.8"/>
<path d="M189.50 468.57 L191.62 470.70 L189.50 472.82 L187.38 470.70 Z" fill="#000" stroke="#000" stroke-width="0.8"/>
<path d="M196.75 466.99 L198.88 469.11 L196.75 471.24 L194.62 469.11 Z" fill="#000" stroke="#000" stroke-width="0.8"/>
<path d="M204.00 468.57 L206.12 470.70 L204.00 472.82 L201.88 470.70 Z" fill="#000" stroke="#000" stroke-width="0.8"/>
<path d="M211.25 469.63 L213.38 471.76 L211.25 473.88 L209.12 471.76 Z" fill="#000" stroke="#000" stroke-width="0.8"/>
<path d="M218.50 469.63 L220.62 471.76 L218.50 473.88 L216.38 471.76 Z" fill="#000" stroke="#000" stroke-width="0.8"/>
<path d="M225.75 469.63 L227.88 471.76 L225.75 473.88 L223.62 471.76 Z" fill="#000" stroke="#000" stroke-width="0.8"/>
<path d="M233.00 469.10 L235.12 471.23 L233.00 473.35 L230.88 471.23 Z" fill="#000" stroke="#000" stroke-width="0.8"/>
<path d="M240.25 468.04 L242.38 470.17 L240.25 472.29 L238.12 470.17 Z" fill="#000" stroke="#000" stroke-width="0.8"/>
<path d="M247.50 467.51 L249.62 469.64 L247.50 471.76 L245.38 469.64 Z" fill="#000" stroke="#000" stroke-width="0.8"/>
<path d="M254.75 467.51 L256.88 469.64 L254.75 471.76 L252.62 469.64 Z" fill="#000" stroke="#000" stroke-width="0.8"/>
<path d="M262.00 468.04 L264.12 470.17 L262.00 472.29 L259.88 470.17 Z" fill="#000" stroke="#000" stroke-width="0.8"/>
<path d="M269.25 468.04 L271.38 470.17 L269.25 472.29 L267.12 470.17 Z" fill="#000" stroke="#000" stroke-width="0.8"/>
<path d="M276.50 466.99 L278.62 469.11 L276.50 471.24 L274.38 469.11 Z" fill="#000" stroke="#000" stroke-width="0.8"/>
<path d="M283.75 470.69 L285.88 472.82 L283.75 474.94 L281.62 472.82 Z" fill="#000" stroke="#000" stroke-width="0.8"/>
<path d="M291.00 469.63 L293.12 471.76 L291.00 473.88 L288.88 471.76 Z" fill="#000" stroke="#000" stroke-width="0.8"/>
<path d="M298.25 469.63 L300.38 471.76 L298.25 473.88 L296.12 471.76 Z" fill="#000" stroke="#000" stroke-width="0.8"/>
<path d="M305.50 469.63 L307.62 471.76 L305.50 473.88 L303.38 471.76 Z" fill="#000" stroke="#000" stroke-width="0.8"/>
<path d="M312.75 469.42 L314.88 471.55 L312.75 473.67 L310.62 471.55 Z" fill="#000" stroke="#000" stroke-width="0.8"/>
<path d="M320.00 469.42 L322.12 471.55 L320.00 473.67 L317.88 471.55 Z" fill="#000" stroke="#000" stroke-width="0.8"/>
<path d="M327.25 469.42 L329.38 471.55 L327.25 473.67 L325.12 471.55 Z" fill="#000" stroke="#000" stroke-width="0.8"/>
<path d="M334.50 469.42 L336.62 471.55 L334.50 473.67 L332.38 471.55 Z" fill="#000" stroke="#000" stroke-width="0.8"/>
<path d="M341.75 469.42 L343.88 471.55 L341.75 473.67 L339.62 471.55 Z" fill="#000" stroke="#000" stroke-width="0.8"/>
<path d="M349.00 469.42 L351.12 471.55 L349.00 473.67 L346.88 471.55 Z" fill="#000" stroke="#000" stroke-width="0.8"/>
<path d="M356.25 469.42 L358.38 471.55 L356.25 473.67 L354.12 471.55 Z" fill="#000" stroke="#000" stroke-width="0.8"/>
<path d="M363.50 469.42 L365.62 471.55 L363.50 473.67 L361.38 471.55 Z" fill="#000" stroke="#000" stroke-width="0.8"/>
<path d="M370.75 469.42 L372.88 471.55 L370.75 473.67 L368.62 471.55 Z" fill="#000" stroke="#000" stroke-width="0.8"/>
<line x1="51.75" y1="399.22" x2="51.75" y2="403.45" stroke="#a3bfe3" stroke-width="0.9"/>
<line x1="49.35" y1="399.22" x2="54.15" y2="399.22" stroke="#a3bfe3" stroke-width="0.9"/>
<line x1="49.35" y1="403.45" x2="54.15" y2="403.45" stroke="#a3bfe3" stroke-width="0.9"/>
<line x1="59.00" y1="401.33" x2="59.00" y2="405.57" stroke="#a3bfe3" stroke-width="0.9"/>
<line x1="56.60" y1="401.33" x2="61.40" y2="401.33" stroke="#a3bfe3" stroke-width="0.9"/>
<line x1="56.60" y1="405.57" x2="61.40" y2="405.57" stroke="#a3bfe3" stroke-width="0.9"/>
<line x1="66.25" y1="411.92" x2="66.25" y2="416.16" stroke="#a3bfe3" stroke-width="0.9"/>
<line x1="63.85" y1="411.92" x2="68.65" y2="411.92" stroke="#a3bfe3" stroke-width="0.9"/>
<line x1="63.85" y1="416.16" x2="68.65" y2="416.16" stroke="#a3bfe3" stroke-width="0.9"/>
<line x1="73.50" y1="420.40" x2="73.50" y2="424.63" stroke="#a3bfe3" stroke-width="0.9"/>
<line x1="71.10" y1="420.40" x2="75.90" y2="420.40" stroke="#a3bfe3" stroke-width="0.9"/>
<line x1="71.10" y1="424.63" x2="75.90" y2="424.63" stroke="#a3bfe3" stroke-width="0.9"/>
<line x1="80.75" y1="404.51" x2="80.75" y2="410.87" stroke="#a3bfe3" stroke-width="0.9"/>
<line x1="78.35" y1="404.51" x2="83.15" y2="404.51" stroke="#a3bfe3" stroke-width="0.9"/>
<line x1="78.35" y1="410.87" x2="83.15" y2="410.87" stroke="#a3bfe3" stroke-width="0.9"/>
<line x1="88.00" y1="404.51" x2="88.00" y2="412.98" stroke="#a3bfe3" stroke-width="0.9"/>
<line x1="85.60" y1="404.51" x2="90.40" y2="404.51" stroke="#a3bfe3" stroke-width="0.9"/>
<line x1="85.60" y1="412.98" x2="90.40" y2="412.98" stroke="#a3bfe3" stroke-width="0.9"/>
<line x1="95.25" y1="415.63" x2="95.25" y2="423.04" stroke="#a3bfe3" stroke-width="0.9"/>
<line x1="92.85" y1="415.63" x2="97.65" y2="415.63" stroke="#a3bfe3" stroke-width="0.9"/>
<line x1="92.85" y1="423.04" x2="97.65" y2="423.04" stroke="#a3bfe3" stroke-width="0.9"/>
<line x1="102.50" y1="417.22" x2="102.50" y2="423.57" stroke="#a3bfe3" stroke-width="0.9"/>
<line x1="100.10" y1="417.22" x2="104.90" y2="417.22" stroke="#a3bfe3" stroke-width="0.9"/>
<line x1="100.10" y1="423.57" x2="104.90" y2="423.57" stroke="#a3bfe3" stroke-width="0.9"/>
<line x1="109.75" y1="416.90" x2="109.75" y2="423.26" stroke="#a3bfe3" stroke-width="0.9"/>
<line x1="107.35" y1="416.90" x2="112.15" y2="416.90" stroke="#a3bfe3" stroke-width="0.9"/>
<line x1="107.35" y1="423.26" x2="112.15" y2="423.26" stroke="#a3bfe3" stroke-width="0.9"/>
<line x1="117.00" y1="415.95" x2="117.00" y2="422.30" stroke="#a3bfe3" stroke-width="0.9"/>
<line x1="114.60" y1="415.95" x2="119.40" y2="415.95" stroke="#a3bfe3" stroke-width="0.9"/>
<line x1="114.60" y1="422.30" x2="119.40" y2="422.30" stroke="#a3bfe3" stroke-width="0.9"/>
<line x1="124.25" y1="414.89" x2="124.25" y2="421.24" stroke="#a3bfe3" stroke-width="0.9"/>
<line x1="121.85" y1="414.89" x2="126.65" y2="414.89" stroke="#a3bfe3" stroke-width="0.9"/>
<line x1="121.85" y1="421.24" x2="126.65" y2="421.24" stroke="#a3bfe3" stroke-width="0.9"/>
<line x1="131.50" y1="414.25" x2="131.50" y2="420.61" stroke="#a3bfe3" stroke-width="0.9"/>
<line x1="129.10" y1="414.25" x2="133.90" y2="414.25" stroke="#a3bfe3" stroke-width="0.9"/>
<line x1="129.10" y1="420.61" x2="133.90" y2="420.61" stroke="#a3bfe3" stroke-width="0.9"/>
<line x1="138.75" y1="415.84" x2="138.75" y2="422.20" stroke="#a3bfe3" stroke-width="0.9"/>
<line x1="136.35" y1="415.84" x2="141.15" y2="415.84" stroke="#a3bfe3" stroke-width="0.9"/>
<line x1="136.35" y1="422.20" x2="141.15" y2="422.20" stroke="#a3bfe3" stroke-width="0.9"/>
<line x1="146.00" y1="417.22" x2="146.00" y2="423.57" stroke="#a3bfe3" stroke-width="0.9"/>
<line x1="143.60" y1="417.22" x2="148.40" y2="417.22" stroke="#a3bfe3" stroke-width="0.9"/>
<line x1="143.60" y1="423.57" x2="148.40" y2="423.57" stroke="#a3bfe3" stroke-width="0.9"/>
<line x1="153.25" y1="417.85" x2="153.25" y2="424.21" stroke="#a3bfe3" stroke-width="0.9"/>
<line x1="150.85" y1="417.85" x2="155.65" y2="417.85" stroke="#a3bfe3" stroke-width="0.9"/>
<line x1="150.85" y1="424.21" x2="155.65" y2="424.21" stroke="#a3bfe3" stroke-width="0.9"/>
<line x1="160.50" y1="418.81" x2="160.50" y2="425.16" stroke="#a3bfe3" stroke-width="0.9"/>
<line x1="158.10" y1="418.81" x2="162.90" y2="418.81" stroke="#a3bfe3" stroke-width="0.9"/>
<line x1="158.10" y1="425.16" x2="162.90" y2="425.16" stroke="#a3bfe3" stroke-width="0.9"/>
<line x1="167.75" y1="419.87" x2="167.75" y2="425.80" stroke="#a3bfe3" stroke-width="0.9"/>
<line x1="165.35" y1="419.87" x2="170.15" y2="419.87" stroke="#a3bfe3" stroke-width="0.9"/>
<line x1="165.35" y1="425.80" x2="170.15" y2="425.80" stroke="#a3bfe3" stroke-width="0.9"/>
<line x1="175.00" y1="420.82" x2="175.00" y2="426.75" stroke="#a3bfe3" stroke-width="0.9"/>
<line x1="172.60" y1="420.82" x2="177.40" y2="420.82" stroke="#a3bfe3" stroke-width="0.9"/>
<line x1="172.60" y1="426.75" x2="177.40" y2="426.75" stroke="#a3bfe3" stroke-width="0.9"/>
<line x1="182.25" y1="422.20" x2="182.25" y2="427.70" stroke="#a3bfe3" stroke-width="0.9"/>
<line x1="179.85" y1="422.20" x2="184.65" y2="422.20" stroke="#a3bfe3" stroke-width="0.9"/>
<line x1="179.85" y1="427.70" x2="184.65" y2="427.70" stroke="#a3bfe3" stroke-width="0.9"/>
<line x1="189.50" y1="423.26" x2="189.50" y2="428.76" stroke="#a3bfe3" stroke-width="0.9"/>
<line x1="187.10" y1="423.26" x2="191.90" y2="423.26" stroke="#a3bfe3" stroke-width="0.9"/>
<line x1="187.10" y1="428.76" x2="191.90" y2="428.76" stroke="#a3bfe3" stroke-width="0.9"/>
<line x1="196.75" y1="424.53" x2="196.75" y2="429.82" stroke="#a3bfe3" stroke-width="0.9"/>
<line x1="194.35" y1="424.53" x2="199.15" y2="424.53" stroke="#a3bfe3" stroke-width="0.9"/>
<line x1="194.35" y1="429.82" x2="199.15" y2="429.82" stroke="#a3bfe3" stroke-width="0.9"/>
<line x1="204.00" y1="425.37" x2="204.00" y2="430.67" stroke="#a3bfe3" stroke-width="0.9"/>
<line x1="201.60" y1="425.37" x2="206.40" y2="425.37" stroke="#a3bfe3" stroke-width="0.9"/>
<line x1="201.60" y1="430.67" x2="206.40" y2="430.67" stroke="#a3bfe3" stroke-width="0.9"/>
<line x1="211.25" y1="426.43" x2="211.25" y2="431.52" stroke="#a3bfe3" stroke-width="0.9"/>
<line x1="208.85" y1="426.43" x2="213.65" y2="426.43" stroke="#a3bfe3" stroke-width="0.9"/>
<line x1="208.85" y1="431.52" x2="213.65" y2="431.52" stroke="#a3bfe3" stroke-width="0.9"/>
<line x1="218.50" y1="427.28" x2="218.50" y2="432.36" stroke="#a3bfe3" stroke-width="0.9"/>
<line x1="216.10" y1="427.28" x2="220.90" y2="427.28" stroke="#a3bfe3" stroke-width="0.9"/>
<line x1="216.10" y1="432.36" x2="220.90" y2="432.36" stroke="#a3bfe3" stroke-width="0.9"/>
<line x1="225.75" y1="428.34" x2="225.75" y2="433.21" stroke="#a3bfe3" stroke-width="0.9"/>
<line x1="223.35" y1="428.34" x2="228.15" y2="428.34" stroke="#a3bfe3" stroke-width="0.9"/>
<line x1="223.35" y1="433.21" x2="228.15" y2="433.21" stroke="#a3bfe3" stroke-width="0.9"/>
<line x1="233.00" y1="429.08" x2="233.00" y2="433.95" stroke="#a3bfe3" stroke-width="0.9"/>
<line x1="230.60" y1="429.08" x2="235.40" y2="429.08" stroke="#a3bfe3" stroke-width="0.9"/>
<line x1="230.60" y1="433.95" x2="235.40" y2="433.95" stroke="#a3bfe3" stroke-width="0.9"/>
<line x1="240.25" y1="429.93" x2="240.25" y2="434.59" stroke="#a3bfe3" stroke-width="0.9"/>
<line x1="237.85" y1="429.93" x2="242.65" y2="429.93" stroke="#a3bfe3" stroke-width="0.9"/>
<line x1="237.85" y1="434.59" x2="242.65" y2="434.59" stroke="#a3bfe3" stroke-width="0.9"/>
<line x1="247.50" y1="430.67" x2="247.50" y2="435.33" stroke="#a3bfe3" stroke-width="0.9"/>
<line x1="245.10" y1="430.67" x2="249.90" y2="430.67" stroke="#a3bfe3" stroke-width="0.9"/>
<line x1="245.10" y1="435.33" x2="249.90" y2="435.33" stroke="#a3bfe3" stroke-width="0.9"/>
<line x1="254.75" y1="431.52" x2="254.75" y2="435.96" stroke="#a3bfe3" stroke-width="0.9"/>
<line x1="252.35" y1="431.52" x2="257.15" y2="431.52" stroke="#a3bfe3" stroke-width="0.9"/>
<line x1="252.35" y1="435.96" x2="257.15" y2="435.96" stroke="#a3bfe3" stroke-width="0.9"/>
<line x1="262.00" y1="432.47" x2="262.00" y2="436.92" stroke="#a3bfe3" stroke-width="0.9"/>
<line x1="259.60" y1="432.47" x2="264.40" y2="432.47" stroke="#a3bfe3" stroke-width="0.9"/>
<line x1="259.60" y1="436.92" x2="264.40" y2="436.92" stroke="#a3bfe3" stroke-width="0.9"/>
<line x1="269.25" y1="433.42" x2="269.25" y2="437.66" stroke="#a3bfe3" stroke-width="0.9"/>
<line x1="266.85" y1="433.42" x2="271.65" y2="433.42" stroke="#a3bfe3" stroke-width="0.9"/>
<line x1="266.85" y1="437.66" x2="271.65" y2="437.66" stroke="#a3bfe3" stroke-width="0.9"/>
<line x1="276.50" y1="434.27" x2="276.50" y2="438.50" stroke="#a3bfe3" stroke-width="0.9"/>
<line x1="274.10" y1="434.27" x2="278.90" y2="434.27" stroke="#a3bfe3" stroke-width="0.9"/>
<line x1="274.10" y1="438.50" x2="278.90" y2="438.50" stroke="#a3bfe3" stroke-width="0.9"/>
<line x1="283.75" y1="435.22" x2="283.75" y2="439.46" stroke="#a3bfe3" stroke-width="0.9"/>
<line x1="281.35" y1="435.22" x2="286.15" y2="435.22" stroke="#a3bfe3" stroke-width="0.9"/>
<line x1="281.35" y1="439.46" x2="286.15" y2="439.46" stroke="#a3bfe3" stroke-width="0.9"/>
<line x1="291.00" y1="436.07" x2="291.00" y2="440.31" stroke="#a3bfe3" stroke-width="0.9"/>
<line x1="288.60" y1="436.07" x2="293.40" y2="436.07" stroke="#a3bfe3" stroke-width="0.9"/>
<line x1="288.60" y1="440.31" x2="293.40" y2="440.31" stroke="#a3bfe3" stroke-width="0.9"/>
<line x1="298.25" y1="436.92" x2="298.25" y2="441.15" stroke="#a3bfe3" stroke-width="0.9"/>
<line x1="295.85" y1="436.92" x2="300.65" y2="436.92" stroke="#a3bfe3" stroke-width="0.9"/>
<line x1="295.85" y1="441.15" x2="300.65" y2="441.15" stroke="#a3bfe3" stroke-width="0.9"/>
<line x1="305.50" y1="437.76" x2="305.50" y2="442.00" stroke="#a3bfe3" stroke-width="0.9"/>
<line x1="303.10" y1="437.76" x2="307.90" y2="437.76" stroke="#a3bfe3" stroke-width="0.9"/>
<line x1="303.10" y1="442.00" x2="307.90" y2="442.00" stroke="#a3bfe3" stroke-width="0.9"/>
<line x1="312.75" y1="438.61" x2="312.75" y2="442.85" stroke="#a3bfe3" stroke-width="0.9"/>
<line x1="310.35" y1="438.61" x2="315.15" y2="438.61" stroke="#a3bfe3" stroke-width="0.9"/>
<line x1="310.35" y1="442.85" x2="315.15" y2="442.85" stroke="#a3bfe3" stroke-width="0.9"/>
<line x1="320.00" y1="439.14" x2="320.00" y2="443.38" stroke="#a3bfe3" stroke-width="0.9"/>
<line x1="317.60" y1="439.14" x2="322.40" y2="439.14" stroke="#a3bfe3" stroke-width="0.9"/>
<line x1="317.60" y1="443.38" x2="322.40" y2="443.38" stroke="#a3bfe3" stroke-width="0.9"/>
<line x1="327.25" y1="439.67" x2="327.25" y2="443.91" stroke="#a3bfe3" stroke-width="0.9"/>
<line x1="324.85" y1="439.67" x2="329.65" y2="439.67" stroke="#a3bfe3" stroke-width="0.9"/>
<line x1="324.85" y1="443.91" x2="329.65" y2="443.91" stroke="#a3bfe3" stroke-width="0.9"/>
<line x1="334.50" y1="440.20" x2="334.50" y2="444.44" stroke="#a3bfe3" stroke-width="0.9"/>
<line x1="332.10" y1="440.20" x2="336.90" y2="440.20" stroke="#a3bfe3" stroke-width="0.9"/>
<line x1="332.10" y1="444.44" x2="336.90" y2="444.44" stroke="#a3bfe3" stroke-width="0.9"/>
<line x1="341.75" y1="440.73" x2="341.75" y2="444.96" stroke="#a3bfe3" stroke-width="0.9"/>
<line x1="339.35" y1="440.73" x2="344.15" y2="440.73" stroke="#a3bfe3" stroke-width="0.9"/>
<line x1="339.35" y1="444.96" x2="344.15" y2="444.96" stroke="#a3bfe3" stroke-width="0.9"/>
<line x1="349.00" y1="441.26" x2="349.00" y2="445.49" stroke="#a3bfe3" stroke-width="0.9"/>
<line x1="346.60" y1="441.26" x2="351.40" y2="441.26" stroke="#a3bfe3" stroke-width="0.9"/>
<line x1="346.60" y1="445.49" x2="351.40" y2="445.49" stroke="#a3bfe3" stroke-width="0.9"/>
<line x1="356.25" y1="441.79" x2="356.25" y2="446.02" stroke="#a3bfe3" stroke-width="0.9"/>
<line x1="353.85" y1="441.79" x2="358.65" y2="441.79" stroke="#a3bfe3" stroke-width="0.9"/>
<line x1="353.85" y1="446.02" x2="358.65" y2="446.02" stroke="#a3bfe3" stroke-width="0.9"/>
<line x1="363.50" y1="442.32" x2="363.50" y2="446.55" stroke="#a3bfe3" stroke-width="0.9"/>
<line x1="361.10" y1="442.32" x2="365.90" y2="442.32" stroke="#a3bfe3" stroke-width="0.9"/>
<line x1="361.10" y1="446.55" x2="365.90" y2="446.55" stroke="#a3bfe3" stroke-width="0.9"/>
<line x1="370.75" y1="442.85" x2="370.75" y2="447.08" stroke="#a3bfe3" stroke-width="0.9"/>
<line x1="368.35" y1="442.85" x2="373.15" y2="442.85" stroke="#a3bfe3" stroke-width="0.9"/>
<line x1="368.35" y1="447.08" x2="373.15" y2="447.08" stroke="#a3bfe3" stroke-width="0.9"/>
<polyline points="51.75,401.33 59.00,403.45 66.25,414.04 73.50,422.51 80.75,407.69 88.00,408.75 95.25,419.34 102.50,420.40 109.75,420.08 117.00,419.13 124.25,418.07 131.50,417.43 138.75,419.02 146.00,420.40 153.25,421.03 160.50,421.98 167.75,422.83 175.00,423.78 182.25,424.95 189.50,426.01 196.75,427.17 204.00,428.02 211.25,428.97 218.50,429.82 225.75,430.77 233.00,431.52 240.25,432.26 247.50,433.00 254.75,433.74 262.00,434.69 269.25,435.54 276.50,436.39 283.75,437.34 291.00,438.19 298.25,439.03 305.50,439.88 312.75,440.73 320.00,441.26 327.25,441.79 334.50,442.32 341.75,442.85 349.00,443.38 356.25,443.91 363.50,444.44 370.75,444.96" fill="none" stroke="#2566b4" stroke-width="1.8" stroke-linejoin="round"/>
<path d="M51.75 398.91 L54.16 403.32 L49.34 403.32 Z" fill="#fff" stroke="#2566b4" stroke-width="1.0" stroke-linejoin="round"/>
<path d="M59.00 401.03 L61.41 405.44 L56.59 405.44 Z" fill="#fff" stroke="#2566b4" stroke-width="1.0" stroke-linejoin="round"/>
<path d="M66.25 411.62 L68.67 416.03 L63.84 416.03 Z" fill="#fff" stroke="#2566b4" stroke-width="1.0" stroke-linejoin="round"/>
<path d="M73.50 420.09 L75.92 424.50 L71.08 424.50 Z" fill="#fff" stroke="#2566b4" stroke-width="1.0" stroke-linejoin="round"/>
<path d="M80.75 405.26 L83.17 409.67 L78.33 409.67 Z" fill="#fff" stroke="#2566b4" stroke-width="1.0" stroke-linejoin="round"/>
<path d="M88.00 406.32 L90.42 410.73 L85.58 410.73 Z" fill="#fff" stroke="#2566b4" stroke-width="1.0" stroke-linejoin="round"/>
<path d="M95.25 416.91 L97.67 421.32 L92.83 421.32 Z" fill="#fff" stroke="#2566b4" stroke-width="1.0" stroke-linejoin="round"/>
<path d="M102.50 417.97 L104.92 422.38 L100.08 422.38 Z" fill="#fff" stroke="#2566b4" stroke-width="1.0" stroke-linejoin="round"/>
<path d="M109.75 417.65 L112.17 422.06 L107.33 422.06 Z" fill="#fff" stroke="#2566b4" stroke-width="1.0" stroke-linejoin="round"/>
<path d="M117.00 416.70 L119.42 421.11 L114.58 421.11 Z" fill="#fff" stroke="#2566b4" stroke-width="1.0" stroke-linejoin="round"/>
<path d="M124.25 415.64 L126.67 420.05 L121.83 420.05 Z" fill="#fff" stroke="#2566b4" stroke-width="1.0" stroke-linejoin="round"/>
<path d="M131.50 415.01 L133.91 419.42 L129.09 419.42 Z" fill="#fff" stroke="#2566b4" stroke-width="1.0" stroke-linejoin="round"/>
<path d="M138.75 416.59 L141.16 421.00 L136.34 421.00 Z" fill="#fff" stroke="#2566b4" stroke-width="1.0" stroke-linejoin="round"/>
<path d="M146.00 417.97 L148.41 422.38 L143.59 422.38 Z" fill="#fff" stroke="#2566b4" stroke-width="1.0" stroke-linejoin="round"/>
<path d="M153.25 418.61 L155.66 423.02 L150.84 423.02 Z" fill="#fff" stroke="#2566b4" stroke-width="1.0" stroke-linejoin="round"/>
<path d="M160.50 419.56 L162.91 423.97 L158.09 423.97 Z" fill="#fff" stroke="#2566b4" stroke-width="1.0" stroke-linejoin="round"/>
<path d="M167.75 420.41 L170.16 424.82 L165.34 424.82 Z" fill="#fff" stroke="#2566b4" stroke-width="1.0" stroke-linejoin="round"/>
<path d="M175.00 421.36 L177.41 425.77 L172.59 425.77 Z" fill="#fff" stroke="#2566b4" stroke-width="1.0" stroke-linejoin="round"/>
<path d="M182.25 422.52 L184.66 426.93 L179.84 426.93 Z" fill="#fff" stroke="#2566b4" stroke-width="1.0" stroke-linejoin="round"/>
<path d="M189.50 423.58 L191.91 427.99 L187.09 427.99 Z" fill="#fff" stroke="#2566b4" stroke-width="1.0" stroke-linejoin="round"/>
<path d="M196.75 424.75 L199.16 429.16 L194.34 429.16 Z" fill="#fff" stroke="#2566b4" stroke-width="1.0" stroke-linejoin="round"/>
<path d="M204.00 425.60 L206.41 430.01 L201.59 430.01 Z" fill="#fff" stroke="#2566b4" stroke-width="1.0" stroke-linejoin="round"/>
<path d="M211.25 426.55 L213.66 430.96 L208.84 430.96 Z" fill="#fff" stroke="#2566b4" stroke-width="1.0" stroke-linejoin="round"/>
<path d="M218.50 427.40 L220.91 431.81 L216.09 431.81 Z" fill="#fff" stroke="#2566b4" stroke-width="1.0" stroke-linejoin="round"/>
<path d="M225.75 428.35 L228.16 432.76 L223.34 432.76 Z" fill="#fff" stroke="#2566b4" stroke-width="1.0" stroke-linejoin="round"/>
<path d="M233.00 429.09 L235.41 433.50 L230.59 433.50 Z" fill="#fff" stroke="#2566b4" stroke-width="1.0" stroke-linejoin="round"/>
<path d="M240.25 429.83 L242.66 434.24 L237.84 434.24 Z" fill="#fff" stroke="#2566b4" stroke-width="1.0" stroke-linejoin="round"/>
<path d="M247.50 430.57 L249.91 434.98 L245.09 434.98 Z" fill="#fff" stroke="#2566b4" stroke-width="1.0" stroke-linejoin="round"/>
<path d="M254.75 431.31 L257.17 435.72 L252.34 435.72 Z" fill="#fff" stroke="#2566b4" stroke-width="1.0" stroke-linejoin="round"/>
<path d="M262.00 432.27 L264.42 436.68 L259.58 436.68 Z" fill="#fff" stroke="#2566b4" stroke-width="1.0" stroke-linejoin="round"/>
<path d="M269.25 433.11 L271.67 437.52 L266.83 437.52 Z" fill="#fff" stroke="#2566b4" stroke-width="1.0" stroke-linejoin="round"/>
<path d="M276.50 433.96 L278.92 438.37 L274.08 438.37 Z" fill="#fff" stroke="#2566b4" stroke-width="1.0" stroke-linejoin="round"/>
<path d="M283.75 434.91 L286.17 439.32 L281.33 439.32 Z" fill="#fff" stroke="#2566b4" stroke-width="1.0" stroke-linejoin="round"/>
<path d="M291.00 435.76 L293.42 440.17 L288.58 440.17 Z" fill="#fff" stroke="#2566b4" stroke-width="1.0" stroke-linejoin="round"/>
<path d="M298.25 436.61 L300.67 441.02 L295.83 441.02 Z" fill="#fff" stroke="#2566b4" stroke-width="1.0" stroke-linejoin="round"/>
<path d="M305.50 437.46 L307.92 441.87 L303.08 441.87 Z" fill="#fff" stroke="#2566b4" stroke-width="1.0" stroke-linejoin="round"/>
<path d="M312.75 438.30 L315.17 442.71 L310.33 442.71 Z" fill="#fff" stroke="#2566b4" stroke-width="1.0" stroke-linejoin="round"/>
<path d="M320.00 438.83 L322.42 443.24 L317.58 443.24 Z" fill="#fff" stroke="#2566b4" stroke-width="1.0" stroke-linejoin="round"/>
<path d="M327.25 439.36 L329.67 443.77 L324.83 443.77 Z" fill="#fff" stroke="#2566b4" stroke-width="1.0" stroke-linejoin="round"/>
<path d="M334.50 439.89 L336.92 444.30 L332.08 444.30 Z" fill="#fff" stroke="#2566b4" stroke-width="1.0" stroke-linejoin="round"/>
<path d="M341.75 440.42 L344.17 444.83 L339.33 444.83 Z" fill="#fff" stroke="#2566b4" stroke-width="1.0" stroke-linejoin="round"/>
<path d="M349.00 440.95 L351.42 445.36 L346.58 445.36 Z" fill="#fff" stroke="#2566b4" stroke-width="1.0" stroke-linejoin="round"/>
<path d="M356.25 441.48 L358.67 445.89 L353.83 445.89 Z" fill="#fff" stroke="#2566b4" stroke-width="1.0" stroke-linejoin="round"/>
<path d="M363.50 442.01 L365.92 446.42 L361.08 446.42 Z" fill="#fff" stroke="#2566b4" stroke-width="1.0" stroke-linejoin="round"/>
<path d="M370.75 442.54 L373.17 446.95 L368.33 446.95 Z" fill="#fff" stroke="#2566b4" stroke-width="1.0" stroke-linejoin="round"/>
<line x1="51.75" y1="405.57" x2="51.75" y2="409.81" stroke="#b0d4c0" stroke-width="0.9"/>
<line x1="49.35" y1="405.57" x2="54.15" y2="405.57" stroke="#b0d4c0" stroke-width="0.9"/>
<line x1="49.35" y1="409.81" x2="54.15" y2="409.81" stroke="#b0d4c0" stroke-width="0.9"/>
<line x1="59.00" y1="407.69" x2="59.00" y2="411.92" stroke="#b0d4c0" stroke-width="0.9"/>
<line x1="56.60" y1="407.69" x2="61.40" y2="407.69" stroke="#b0d4c0" stroke-width="0.9"/>
<line x1="56.60" y1="411.92" x2="61.40" y2="411.92" stroke="#b0d4c0" stroke-width="0.9"/>
<line x1="66.25" y1="416.16" x2="66.25" y2="420.40" stroke="#b0d4c0" stroke-width="0.9"/>
<line x1="63.85" y1="416.16" x2="68.65" y2="416.16" stroke="#b0d4c0" stroke-width="0.9"/>
<line x1="63.85" y1="420.40" x2="68.65" y2="420.40" stroke="#b0d4c0" stroke-width="0.9"/>
<line x1="73.50" y1="422.51" x2="73.50" y2="426.75" stroke="#b0d4c0" stroke-width="0.9"/>
<line x1="71.10" y1="422.51" x2="75.90" y2="422.51" stroke="#b0d4c0" stroke-width="0.9"/>
<line x1="71.10" y1="426.75" x2="75.90" y2="426.75" stroke="#b0d4c0" stroke-width="0.9"/>
<line x1="80.75" y1="409.81" x2="80.75" y2="416.16" stroke="#b0d4c0" stroke-width="0.9"/>
<line x1="78.35" y1="409.81" x2="83.15" y2="409.81" stroke="#b0d4c0" stroke-width="0.9"/>
<line x1="78.35" y1="416.16" x2="83.15" y2="416.16" stroke="#b0d4c0" stroke-width="0.9"/>
<line x1="88.00" y1="418.28" x2="88.00" y2="447.93" stroke="#b0d4c0" stroke-width="0.9"/>
<line x1="85.60" y1="418.28" x2="90.40" y2="418.28" stroke="#b0d4c0" stroke-width="0.9"/>
<line x1="85.60" y1="447.93" x2="90.40" y2="447.93" stroke="#b0d4c0" stroke-width="0.9"/>
<line x1="95.25" y1="412.98" x2="95.25" y2="427.81" stroke="#b0d4c0" stroke-width="0.9"/>
<line x1="92.85" y1="412.98" x2="97.65" y2="412.98" stroke="#b0d4c0" stroke-width="0.9"/>
<line x1="92.85" y1="427.81" x2="97.65" y2="427.81" stroke="#b0d4c0" stroke-width="0.9"/>
<line x1="102.50" y1="413.30" x2="102.50" y2="428.13" stroke="#b0d4c0" stroke-width="0.9"/>
<line x1="100.10" y1="413.30" x2="104.90" y2="413.30" stroke="#b0d4c0" stroke-width="0.9"/>
<line x1="100.10" y1="428.13" x2="104.90" y2="428.13" stroke="#b0d4c0" stroke-width="0.9"/>
<line x1="109.75" y1="412.45" x2="109.75" y2="427.28" stroke="#b0d4c0" stroke-width="0.9"/>
<line x1="107.35" y1="412.45" x2="112.15" y2="412.45" stroke="#b0d4c0" stroke-width="0.9"/>
<line x1="107.35" y1="427.28" x2="112.15" y2="427.28" stroke="#b0d4c0" stroke-width="0.9"/>
<line x1="117.00" y1="411.08" x2="117.00" y2="426.96" stroke="#b0d4c0" stroke-width="0.9"/>
<line x1="114.60" y1="411.08" x2="119.40" y2="411.08" stroke="#b0d4c0" stroke-width="0.9"/>
<line x1="114.60" y1="426.96" x2="119.40" y2="426.96" stroke="#b0d4c0" stroke-width="0.9"/>
<line x1="124.25" y1="411.61" x2="124.25" y2="425.37" stroke="#b0d4c0" stroke-width="0.9"/>
<line x1="121.85" y1="411.61" x2="126.65" y2="411.61" stroke="#b0d4c0" stroke-width="0.9"/>
<line x1="121.85" y1="425.37" x2="126.65" y2="425.37" stroke="#b0d4c0" stroke-width="0.9"/>
<line x1="131.50" y1="416.37" x2="131.50" y2="426.96" stroke="#b0d4c0" stroke-width="0.9"/>
<line x1="129.10" y1="416.37" x2="133.90" y2="416.37" stroke="#b0d4c0" stroke-width="0.9"/>
<line x1="129.10" y1="426.96" x2="133.90" y2="426.96" stroke="#b0d4c0" stroke-width="0.9"/>
<line x1="138.75" y1="418.17" x2="138.75" y2="427.70" stroke="#b0d4c0" stroke-width="0.9"/>
<line x1="136.35" y1="418.17" x2="141.15" y2="418.17" stroke="#b0d4c0" stroke-width="0.9"/>
<line x1="136.35" y1="427.70" x2="141.15" y2="427.70" stroke="#b0d4c0" stroke-width="0.9"/>
<line x1="146.00" y1="419.13" x2="146.00" y2="428.66" stroke="#b0d4c0" stroke-width="0.9"/>
<line x1="143.60" y1="419.13" x2="148.40" y2="419.13" stroke="#b0d4c0" stroke-width="0.9"/>
<line x1="143.60" y1="428.66" x2="148.40" y2="428.66" stroke="#b0d4c0" stroke-width="0.9"/>
<line x1="153.25" y1="420.08" x2="153.25" y2="429.61" stroke="#b0d4c0" stroke-width="0.9"/>
<line x1="150.85" y1="420.08" x2="155.65" y2="420.08" stroke="#b0d4c0" stroke-width="0.9"/>
<line x1="150.85" y1="429.61" x2="155.65" y2="429.61" stroke="#b0d4c0" stroke-width="0.9"/>
<line x1="160.50" y1="421.03" x2="160.50" y2="430.56" stroke="#b0d4c0" stroke-width="0.9"/>
<line x1="158.10" y1="421.03" x2="162.90" y2="421.03" stroke="#b0d4c0" stroke-width="0.9"/>
<line x1="158.10" y1="430.56" x2="162.90" y2="430.56" stroke="#b0d4c0" stroke-width="0.9"/>
<line x1="167.75" y1="422.09" x2="167.75" y2="431.62" stroke="#b0d4c0" stroke-width="0.9"/>
<line x1="165.35" y1="422.09" x2="170.15" y2="422.09" stroke="#b0d4c0" stroke-width="0.9"/>
<line x1="165.35" y1="431.62" x2="170.15" y2="431.62" stroke="#b0d4c0" stroke-width="0.9"/>
<line x1="175.00" y1="423.04" x2="175.00" y2="432.57" stroke="#b0d4c0" stroke-width="0.9"/>
<line x1="172.60" y1="423.04" x2="177.40" y2="423.04" stroke="#b0d4c0" stroke-width="0.9"/>
<line x1="172.60" y1="432.57" x2="177.40" y2="432.57" stroke="#b0d4c0" stroke-width="0.9"/>
<line x1="182.25" y1="424.10" x2="182.25" y2="433.63" stroke="#b0d4c0" stroke-width="0.9"/>
<line x1="179.85" y1="424.10" x2="184.65" y2="424.10" stroke="#b0d4c0" stroke-width="0.9"/>
<line x1="179.85" y1="433.63" x2="184.65" y2="433.63" stroke="#b0d4c0" stroke-width="0.9"/>
<line x1="189.50" y1="425.27" x2="189.50" y2="434.80" stroke="#b0d4c0" stroke-width="0.9"/>
<line x1="187.10" y1="425.27" x2="191.90" y2="425.27" stroke="#b0d4c0" stroke-width="0.9"/>
<line x1="187.10" y1="434.80" x2="191.90" y2="434.80" stroke="#b0d4c0" stroke-width="0.9"/>
<line x1="196.75" y1="426.33" x2="196.75" y2="435.86" stroke="#b0d4c0" stroke-width="0.9"/>
<line x1="194.35" y1="426.33" x2="199.15" y2="426.33" stroke="#b0d4c0" stroke-width="0.9"/>
<line x1="194.35" y1="435.86" x2="199.15" y2="435.86" stroke="#b0d4c0" stroke-width="0.9"/>
<line x1="204.00" y1="427.28" x2="204.00" y2="436.81" stroke="#b0d4c0" stroke-width="0.9"/>
<line x1="201.60" y1="427.28" x2="206.40" y2="427.28" stroke="#b0d4c0" stroke-width="0.9"/>
<line x1="201.60" y1="436.81" x2="206.40" y2="436.81" stroke="#b0d4c0" stroke-width="0.9"/>
<line x1="211.25" y1="428.34" x2="211.25" y2="437.87" stroke="#b0d4c0" stroke-width="0.9"/>
<line x1="208.85" y1="428.34" x2="213.65" y2="428.34" stroke="#b0d4c0" stroke-width="0.9"/>
<line x1="208.85" y1="437.87" x2="213.65" y2="437.87" stroke="#b0d4c0" stroke-width="0.9"/>
<line x1="218.50" y1="429.40" x2="218.50" y2="438.93" stroke="#b0d4c0" stroke-width="0.9"/>
<line x1="216.10" y1="429.40" x2="220.90" y2="429.40" stroke="#b0d4c0" stroke-width="0.9"/>
<line x1="216.10" y1="438.93" x2="220.90" y2="438.93" stroke="#b0d4c0" stroke-width="0.9"/>
<line x1="225.75" y1="430.56" x2="225.75" y2="440.09" stroke="#b0d4c0" stroke-width="0.9"/>
<line x1="223.35" y1="430.56" x2="228.15" y2="430.56" stroke="#b0d4c0" stroke-width="0.9"/>
<line x1="223.35" y1="440.09" x2="228.15" y2="440.09" stroke="#b0d4c0" stroke-width="0.9"/>
<line x1="233.00" y1="431.41" x2="233.00" y2="440.94" stroke="#b0d4c0" stroke-width="0.9"/>
<line x1="230.60" y1="431.41" x2="235.40" y2="431.41" stroke="#b0d4c0" stroke-width="0.9"/>
<line x1="230.60" y1="440.94" x2="235.40" y2="440.94" stroke="#b0d4c0" stroke-width="0.9"/>
<line x1="240.25" y1="431.73" x2="240.25" y2="442.32" stroke="#b0d4c0" stroke-width="0.9"/>
<line x1="237.85" y1="431.73" x2="242.65" y2="431.73" stroke="#b0d4c0" stroke-width="0.9"/>
<line x1="237.85" y1="442.32" x2="242.65" y2="442.32" stroke="#b0d4c0" stroke-width="0.9"/>
<line x1="247.50" y1="432.68" x2="247.50" y2="443.27" stroke="#b0d4c0" stroke-width="0.9"/>
<line x1="245.10" y1="432.68" x2="249.90" y2="432.68" stroke="#b0d4c0" stroke-width="0.9"/>
<line x1="245.10" y1="443.27" x2="249.90" y2="443.27" stroke="#b0d4c0" stroke-width="0.9"/>
<line x1="254.75" y1="433.10" x2="254.75" y2="444.75" stroke="#b0d4c0" stroke-width="0.9"/>
<line x1="252.35" y1="433.10" x2="257.15" y2="433.10" stroke="#b0d4c0" stroke-width="0.9"/>
<line x1="252.35" y1="444.75" x2="257.15" y2="444.75" stroke="#b0d4c0" stroke-width="0.9"/>
<line x1="262.00" y1="437.13" x2="262.00" y2="449.84" stroke="#b0d4c0" stroke-width="0.9"/>
<line x1="259.60" y1="437.13" x2="264.40" y2="437.13" stroke="#b0d4c0" stroke-width="0.9"/>
<line x1="259.60" y1="449.84" x2="264.40" y2="449.84" stroke="#b0d4c0" stroke-width="0.9"/>
<line x1="269.25" y1="438.93" x2="269.25" y2="452.70" stroke="#b0d4c0" stroke-width="0.9"/>
<line x1="266.85" y1="438.93" x2="271.65" y2="438.93" stroke="#b0d4c0" stroke-width="0.9"/>
<line x1="266.85" y1="452.70" x2="271.65" y2="452.70" stroke="#b0d4c0" stroke-width="0.9"/>
<line x1="276.50" y1="439.88" x2="276.50" y2="454.71" stroke="#b0d4c0" stroke-width="0.9"/>
<line x1="274.10" y1="439.88" x2="278.90" y2="439.88" stroke="#b0d4c0" stroke-width="0.9"/>
<line x1="274.10" y1="454.71" x2="278.90" y2="454.71" stroke="#b0d4c0" stroke-width="0.9"/>
<line x1="283.75" y1="441.26" x2="283.75" y2="456.08" stroke="#b0d4c0" stroke-width="0.9"/>
<line x1="281.35" y1="441.26" x2="286.15" y2="441.26" stroke="#b0d4c0" stroke-width="0.9"/>
<line x1="281.35" y1="456.08" x2="286.15" y2="456.08" stroke="#b0d4c0" stroke-width="0.9"/>
<line x1="291.00" y1="442.32" x2="291.00" y2="457.14" stroke="#b0d4c0" stroke-width="0.9"/>
<line x1="288.60" y1="442.32" x2="293.40" y2="442.32" stroke="#b0d4c0" stroke-width="0.9"/>
<line x1="288.60" y1="457.14" x2="293.40" y2="457.14" stroke="#b0d4c0" stroke-width="0.9"/>
<line x1="298.25" y1="442.85" x2="298.25" y2="458.73" stroke="#b0d4c0" stroke-width="0.9"/>
<line x1="295.85" y1="442.85" x2="300.65" y2="442.85" stroke="#b0d4c0" stroke-width="0.9"/>
<line x1="295.85" y1="458.73" x2="300.65" y2="458.73" stroke="#b0d4c0" stroke-width="0.9"/>
<line x1="305.50" y1="444.01" x2="305.50" y2="459.90" stroke="#b0d4c0" stroke-width="0.9"/>
<line x1="303.10" y1="444.01" x2="307.90" y2="444.01" stroke="#b0d4c0" stroke-width="0.9"/>
<line x1="303.10" y1="459.90" x2="307.90" y2="459.90" stroke="#b0d4c0" stroke-width="0.9"/>
<line x1="312.75" y1="445.07" x2="312.75" y2="460.96" stroke="#b0d4c0" stroke-width="0.9"/>
<line x1="310.35" y1="445.07" x2="315.15" y2="445.07" stroke="#b0d4c0" stroke-width="0.9"/>
<line x1="310.35" y1="460.96" x2="315.15" y2="460.96" stroke="#b0d4c0" stroke-width="0.9"/>
<line x1="320.00" y1="446.45" x2="320.00" y2="462.33" stroke="#b0d4c0" stroke-width="0.9"/>
<line x1="317.60" y1="446.45" x2="322.40" y2="446.45" stroke="#b0d4c0" stroke-width="0.9"/>
<line x1="317.60" y1="462.33" x2="322.40" y2="462.33" stroke="#b0d4c0" stroke-width="0.9"/>
<line x1="327.25" y1="447.93" x2="327.25" y2="463.81" stroke="#b0d4c0" stroke-width="0.9"/>
<line x1="324.85" y1="447.93" x2="329.65" y2="447.93" stroke="#b0d4c0" stroke-width="0.9"/>
<line x1="324.85" y1="463.81" x2="329.65" y2="463.81" stroke="#b0d4c0" stroke-width="0.9"/>
<line x1="334.50" y1="448.67" x2="334.50" y2="464.56" stroke="#b0d4c0" stroke-width="0.9"/>
<line x1="332.10" y1="448.67" x2="336.90" y2="448.67" stroke="#b0d4c0" stroke-width="0.9"/>
<line x1="332.10" y1="464.56" x2="336.90" y2="464.56" stroke="#b0d4c0" stroke-width="0.9"/>
<line x1="341.75" y1="449.52" x2="341.75" y2="465.40" stroke="#b0d4c0" stroke-width="0.9"/>
<line x1="339.35" y1="449.52" x2="344.15" y2="449.52" stroke="#b0d4c0" stroke-width="0.9"/>
<line x1="339.35" y1="465.40" x2="344.15" y2="465.40" stroke="#b0d4c0" stroke-width="0.9"/>
<line x1="349.00" y1="450.15" x2="349.00" y2="466.04" stroke="#b0d4c0" stroke-width="0.9"/>
<line x1="346.60" y1="450.15" x2="351.40" y2="450.15" stroke="#b0d4c0" stroke-width="0.9"/>
<line x1="346.60" y1="466.04" x2="351.40" y2="466.04" stroke="#b0d4c0" stroke-width="0.9"/>
<line x1="356.25" y1="450.68" x2="356.25" y2="466.57" stroke="#b0d4c0" stroke-width="0.9"/>
<line x1="353.85" y1="450.68" x2="358.65" y2="450.68" stroke="#b0d4c0" stroke-width="0.9"/>
<line x1="353.85" y1="466.57" x2="358.65" y2="466.57" stroke="#b0d4c0" stroke-width="0.9"/>
<line x1="363.50" y1="451.21" x2="363.50" y2="467.10" stroke="#b0d4c0" stroke-width="0.9"/>
<line x1="361.10" y1="451.21" x2="365.90" y2="451.21" stroke="#b0d4c0" stroke-width="0.9"/>
<line x1="361.10" y1="467.10" x2="365.90" y2="467.10" stroke="#b0d4c0" stroke-width="0.9"/>
<line x1="370.75" y1="451.85" x2="370.75" y2="467.73" stroke="#b0d4c0" stroke-width="0.9"/>
<line x1="368.35" y1="451.85" x2="373.15" y2="451.85" stroke="#b0d4c0" stroke-width="0.9"/>
<line x1="368.35" y1="467.73" x2="373.15" y2="467.73" stroke="#b0d4c0" stroke-width="0.9"/>
<polyline points="51.75,407.69 59.00,409.81 66.25,418.28 73.50,424.63 80.75,412.98 88.00,433.10 95.25,420.40 102.50,420.71 109.75,419.87 117.00,419.02 124.25,418.49 131.50,421.67 138.75,422.94 146.00,423.89 153.25,424.84 160.50,425.80 167.75,426.86 175.00,427.81 182.25,428.87 189.50,430.03 196.75,431.09 204.00,432.05 211.25,433.10 218.50,434.16 225.75,435.33 233.00,436.18 240.25,437.02 247.50,437.98 254.75,438.93 262.00,443.48 269.25,445.81 276.50,447.29 283.75,448.67 291.00,449.73 298.25,450.79 305.50,451.95 312.75,453.01 320.00,454.39 327.25,455.87 334.50,456.61 341.75,457.46 349.00,458.10 356.25,458.63 363.50,459.16 370.75,459.79" fill="none" stroke="#288c59" stroke-width="1.8" stroke-linejoin="round"/>
<rect x="49.75" y="405.69" width="4.0" height="4.0" fill="#fff" stroke="#288c59" stroke-width="1.2"/>
<rect x="57.00" y="407.81" width="4.0" height="4.0" fill="#fff" stroke="#288c59" stroke-width="1.2"/>
<rect x="64.25" y="416.28" width="4.0" height="4.0" fill="#fff" stroke="#288c59" stroke-width="1.2"/>
<rect x="71.50" y="422.63" width="4.0" height="4.0" fill="#fff" stroke="#288c59" stroke-width="1.2"/>
<rect x="78.75" y="410.98" width="4.0" height="4.0" fill="#fff" stroke="#288c59" stroke-width="1.2"/>
<rect x="86.00" y="431.10" width="4.0" height="4.0" fill="#fff" stroke="#288c59" stroke-width="1.2"/>
<rect x="93.25" y="418.40" width="4.0" height="4.0" fill="#fff" stroke="#288c59" stroke-width="1.2"/>
<rect x="100.50" y="418.71" width="4.0" height="4.0" fill="#fff" stroke="#288c59" stroke-width="1.2"/>
<rect x="107.75" y="417.87" width="4.0" height="4.0" fill="#fff" stroke="#288c59" stroke-width="1.2"/>
<rect x="115.00" y="417.02" width="4.0" height="4.0" fill="#fff" stroke="#288c59" stroke-width="1.2"/>
<rect x="122.25" y="416.49" width="4.0" height="4.0" fill="#fff" stroke="#288c59" stroke-width="1.2"/>
<rect x="129.50" y="419.67" width="4.0" height="4.0" fill="#fff" stroke="#288c59" stroke-width="1.2"/>
<rect x="136.75" y="420.94" width="4.0" height="4.0" fill="#fff" stroke="#288c59" stroke-width="1.2"/>
<rect x="144.00" y="421.89" width="4.0" height="4.0" fill="#fff" stroke="#288c59" stroke-width="1.2"/>
<rect x="151.25" y="422.84" width="4.0" height="4.0" fill="#fff" stroke="#288c59" stroke-width="1.2"/>
<rect x="158.50" y="423.80" width="4.0" height="4.0" fill="#fff" stroke="#288c59" stroke-width="1.2"/>
<rect x="165.75" y="424.86" width="4.0" height="4.0" fill="#fff" stroke="#288c59" stroke-width="1.2"/>
<rect x="173.00" y="425.81" width="4.0" height="4.0" fill="#fff" stroke="#288c59" stroke-width="1.2"/>
<rect x="180.25" y="426.87" width="4.0" height="4.0" fill="#fff" stroke="#288c59" stroke-width="1.2"/>
<rect x="187.50" y="428.03" width="4.0" height="4.0" fill="#fff" stroke="#288c59" stroke-width="1.2"/>
<rect x="194.75" y="429.09" width="4.0" height="4.0" fill="#fff" stroke="#288c59" stroke-width="1.2"/>
<rect x="202.00" y="430.05" width="4.0" height="4.0" fill="#fff" stroke="#288c59" stroke-width="1.2"/>
<rect x="209.25" y="431.10" width="4.0" height="4.0" fill="#fff" stroke="#288c59" stroke-width="1.2"/>
<rect x="216.50" y="432.16" width="4.0" height="4.0" fill="#fff" stroke="#288c59" stroke-width="1.2"/>
<rect x="223.75" y="433.33" width="4.0" height="4.0" fill="#fff" stroke="#288c59" stroke-width="1.2"/>
<rect x="231.00" y="434.18" width="4.0" height="4.0" fill="#fff" stroke="#288c59" stroke-width="1.2"/>
<rect x="238.25" y="435.02" width="4.0" height="4.0" fill="#fff" stroke="#288c59" stroke-width="1.2"/>
<rect x="245.50" y="435.98" width="4.0" height="4.0" fill="#fff" stroke="#288c59" stroke-width="1.2"/>
<rect x="252.75" y="436.93" width="4.0" height="4.0" fill="#fff" stroke="#288c59" stroke-width="1.2"/>
<rect x="260.00" y="441.48" width="4.0" height="4.0" fill="#fff" stroke="#288c59" stroke-width="1.2"/>
<rect x="267.25" y="443.81" width="4.0" height="4.0" fill="#fff" stroke="#288c59" stroke-width="1.2"/>
<rect x="274.50" y="445.29" width="4.0" height="4.0" fill="#fff" stroke="#288c59" stroke-width="1.2"/>
<rect x="281.75" y="446.67" width="4.0" height="4.0" fill="#fff" stroke="#288c59" stroke-width="1.2"/>
<rect x="289.00" y="447.73" width="4.0" height="4.0" fill="#fff" stroke="#288c59" stroke-width="1.2"/>
<rect x="296.25" y="448.79" width="4.0" height="4.0" fill="#fff" stroke="#288c59" stroke-width="1.2"/>
<rect x="303.50" y="449.95" width="4.0" height="4.0" fill="#fff" stroke="#288c59" stroke-width="1.2"/>
<rect x="310.75" y="451.01" width="4.0" height="4.0" fill="#fff" stroke="#288c59" stroke-width="1.2"/>
<rect x="318.00" y="452.39" width="4.0" height="4.0" fill="#fff" stroke="#288c59" stroke-width="1.2"/>
<rect x="325.25" y="453.87" width="4.0" height="4.0" fill="#fff" stroke="#288c59" stroke-width="1.2"/>
<rect x="332.50" y="454.61" width="4.0" height="4.0" fill="#fff" stroke="#288c59" stroke-width="1.2"/>
<rect x="339.75" y="455.46" width="4.0" height="4.0" fill="#fff" stroke="#288c59" stroke-width="1.2"/>
<rect x="347.00" y="456.10" width="4.0" height="4.0" fill="#fff" stroke="#288c59" stroke-width="1.2"/>
<rect x="354.25" y="456.63" width="4.0" height="4.0" fill="#fff" stroke="#288c59" stroke-width="1.2"/>
<rect x="361.50" y="457.16" width="4.0" height="4.0" fill="#fff" stroke="#288c59" stroke-width="1.2"/>
<rect x="368.75" y="457.79" width="4.0" height="4.0" fill="#fff" stroke="#288c59" stroke-width="1.2"/>
<line x1="126.70" y1="382.20" x2="139.70" y2="382.20" stroke="#000" stroke-width="1.8"/>
<path d="M133.20 380.07 L135.32 382.20 L133.20 384.32 L131.07 382.20 Z" fill="#000" stroke="#000" stroke-width="1.2"/>
<text transform="translate(145.00 386.30) scale(1.160)" font-size="10" text-anchor="start" fill="#111" stroke="#111" stroke-width="0.22">NS</text>
<line x1="194.00" y1="382.20" x2="207.00" y2="382.20" stroke="#288c59" stroke-width="1.8"/>
<rect x="198.30" y="380.00" width="4.4" height="4.4" fill="#fff" stroke="#288c59" stroke-width="1.2"/>
<text transform="translate(212.70 386.30) scale(1.160)" font-size="10" text-anchor="start" fill="#111" stroke="#111" stroke-width="0.22">Mb</text>
<line x1="252.00" y1="382.20" x2="265.00" y2="382.20" stroke="#2566b4" stroke-width="1.8"/>
<path d="M258.50 379.89 L260.80 384.09 L256.20 384.09 Z" fill="#fff" stroke="#2566b4" stroke-width="1.0" stroke-linejoin="round"/>
<text transform="translate(269.60 386.30) scale(1.160)" font-size="10" text-anchor="start" fill="#111" stroke="#111" stroke-width="0.22">NEMHb</text>
<line x1="326.80" y1="382.20" x2="339.80" y2="382.20" stroke="#d4472a" stroke-width="1.8"/>
<path d="M333.30 384.39 L335.49 380.40 L331.12 380.40 Z" fill="#fff" stroke="#d4472a" stroke-width="1.0" stroke-linejoin="round"/>
<text transform="translate(345.00 386.30) scale(1.160)" font-size="10" text-anchor="start" fill="#111" stroke="#111" stroke-width="0.22">StHb</text>
<text transform="translate(317.00 410.40) scale(1.020)" font-size="10" text-anchor="start" fill="#111" stroke="#111" stroke-width="0.22">Mean ± SEM</text>
<text transform="translate(449.30 357.20) scale(1.500)" font-size="10" text-anchor="start" font-weight="bold" fill="#000" stroke="#000" stroke-width="0.36">G</text>
<rect x="501.25" y="371.40" width="13.86" height="108.60" fill="#fcd877"/>
<rect x="515.11" y="371.40" width="6.16" height="108.60" fill="#ecbcbc"/>
<line x1="515.11" y1="371.40" x2="515.11" y2="480.00" stroke="#7a3f22" stroke-width="1.0" stroke-dasharray="1 1"/>
<line x1="521.27" y1="371.40" x2="521.27" y2="480.00" stroke="#7a3f22" stroke-width="1.0" stroke-dasharray="1 1"/>
<line x1="501.30" y1="370.75" x2="501.30" y2="480.65" stroke="#000" stroke-width="1.3"/>
<line x1="496.70" y1="371.40" x2="501.30" y2="371.40" stroke="#000" stroke-width="1.3"/>
<text transform="translate(494.70 375.47) scale(1.130)" font-size="10" text-anchor="end" fill="#111" stroke="#111" stroke-width="0.22">100</text>
<line x1="496.70" y1="393.12" x2="501.30" y2="393.12" stroke="#000" stroke-width="1.3"/>
<text transform="translate(494.70 397.19) scale(1.130)" font-size="10" text-anchor="end" fill="#111" stroke="#111" stroke-width="0.22">80</text>
<line x1="496.70" y1="414.84" x2="501.30" y2="414.84" stroke="#000" stroke-width="1.3"/>
<text transform="translate(494.70 418.91) scale(1.130)" font-size="10" text-anchor="end" fill="#111" stroke="#111" stroke-width="0.22">60</text>
<line x1="496.70" y1="436.56" x2="501.30" y2="436.56" stroke="#000" stroke-width="1.3"/>
<text transform="translate(494.70 440.63) scale(1.130)" font-size="10" text-anchor="end" fill="#111" stroke="#111" stroke-width="0.22">40</text>
<line x1="496.70" y1="458.28" x2="501.30" y2="458.28" stroke="#000" stroke-width="1.3"/>
<text transform="translate(494.70 462.35) scale(1.130)" font-size="10" text-anchor="end" fill="#111" stroke="#111" stroke-width="0.22">20</text>
<line x1="496.70" y1="480.00" x2="501.30" y2="480.00" stroke="#000" stroke-width="1.3"/>
<text transform="translate(494.70 484.07) scale(1.130)" font-size="10" text-anchor="end" fill="#111" stroke="#111" stroke-width="0.22">0</text>
<line x1="499.00" y1="382.26" x2="501.30" y2="382.26" stroke="#000" stroke-width="1.105"/>
<line x1="499.00" y1="403.98" x2="501.30" y2="403.98" stroke="#000" stroke-width="1.105"/>
<line x1="499.00" y1="425.70" x2="501.30" y2="425.70" stroke="#000" stroke-width="1.105"/>
<line x1="499.00" y1="447.42" x2="501.30" y2="447.42" stroke="#000" stroke-width="1.105"/>
<line x1="499.00" y1="469.14" x2="501.30" y2="469.14" stroke="#000" stroke-width="1.105"/>
<line x1="500.65" y1="480.00" x2="625.10" y2="480.00" stroke="#000" stroke-width="1.3"/>
<line x1="501.25" y1="480.00" x2="501.25" y2="484.60" stroke="#000" stroke-width="1.3"/>
<line x1="516.65" y1="480.00" x2="516.65" y2="482.60" stroke="#000" stroke-width="1.3"/>
<line x1="532.05" y1="480.00" x2="532.05" y2="484.60" stroke="#000" stroke-width="1.3"/>
<line x1="547.45" y1="480.00" x2="547.45" y2="482.60" stroke="#000" stroke-width="1.3"/>
<line x1="562.85" y1="480.00" x2="562.85" y2="484.60" stroke="#000" stroke-width="1.3"/>
<line x1="578.25" y1="480.00" x2="578.25" y2="482.60" stroke="#000" stroke-width="1.3"/>
<line x1="593.65" y1="480.00" x2="593.65" y2="484.60" stroke="#000" stroke-width="1.3"/>
<line x1="609.05" y1="480.00" x2="609.05" y2="482.60" stroke="#000" stroke-width="1.3"/>
<line x1="624.45" y1="480.00" x2="624.45" y2="484.60" stroke="#000" stroke-width="1.3"/>
<text transform="translate(501.25 496.30) scale(1.160)" font-size="10" text-anchor="middle" fill="#111" stroke="#111" stroke-width="0.22">0</text>
<text transform="translate(532.05 496.30) scale(1.160)" font-size="10" text-anchor="middle" fill="#111" stroke="#111" stroke-width="0.22">10</text>
<text transform="translate(562.85 496.30) scale(1.160)" font-size="10" text-anchor="middle" fill="#111" stroke="#111" stroke-width="0.22">20</text>
<text transform="translate(593.65 496.30) scale(1.160)" font-size="10" text-anchor="middle" fill="#111" stroke="#111" stroke-width="0.22">30</text>
<text transform="translate(624.45 496.30) scale(1.160)" font-size="10" text-anchor="middle" fill="#111" stroke="#111" stroke-width="0.22">40</text>
<text transform="translate(526.30 512.80) scale(1.150)" font-size="10" text-anchor="start" fill="#111" stroke="#111" stroke-width="0.22">Time (minutes)</text>
<text transform="translate(469.30 422.00) rotate(-90) scale(1.130)" font-size="10" text-anchor="middle" fill="#111" stroke="#111" stroke-width="0.22">Survival %</text>
<line x1="501.25" y1="371.40" x2="624.45" y2="371.40" stroke="#74493b" stroke-width="1.15" stroke-dasharray="16.4 6.2"/>
<line x1="501.25" y1="371.40" x2="624.45" y2="371.40" stroke="#3f5673" stroke-width="1.15" stroke-dasharray="0 18.6 1.8 2.2"/>
<path d="M605.97 371.40 V393.12 H624.45 V414.84" fill="none" stroke="#288c59" stroke-width="1.3" stroke-dasharray="1.3 1.9"/>
<rect x="603.37" y="390.52" width="5.2" height="5.2" fill="#fff" stroke="#288c59" stroke-width="1.2"/>
<rect x="621.85" y="412.24" width="5.2" height="5.2" fill="#fff" stroke="#288c59" stroke-width="1.2"/>
<path d="M624.45 374.06 L627.10 369.23 L621.81 369.23 Z" fill="#fff" stroke="#d4472a" stroke-width="1.0" stroke-linejoin="round"/>
<path d="M624.45 368.74 L627.10 373.57 L621.81 373.57 Z" fill="none" stroke="#2566b4" stroke-width="1.0" stroke-linejoin="round"/>
<path d="M501.25 371.40 H533.9 V393.12 H535 V414.84 H538.5 V436.56 H539.8 V458.28 H547.2 V480.00" fill="none" stroke="#000" stroke-width="1.75"/>
<circle cx="533.90" cy="393.12" r="2.0" fill="#000" stroke="#000" stroke-width="0.5"/>
<circle cx="534.80" cy="414.84" r="2.0" fill="#000" stroke="#000" stroke-width="0.5"/>
<circle cx="538.50" cy="436.56" r="2.0" fill="#000" stroke="#000" stroke-width="0.5"/>
<circle cx="539.80" cy="458.28" r="2.0" fill="#000" stroke="#000" stroke-width="0.5"/>
<circle cx="547.20" cy="480.00" r="2.0" fill="#000" stroke="#000" stroke-width="0.5"/>
<line x1="640.40" y1="417.90" x2="653.00" y2="417.90" stroke="#000" stroke-width="1.8"/>
<path d="M646.90 415.52 L649.27 417.90 L646.90 420.27 L644.52 417.90 Z" fill="#000" stroke="#000" stroke-width="1.2"/>
<text transform="translate(659.40 421.80) scale(1.190)" font-size="10" text-anchor="start" fill="#111" stroke="#111" stroke-width="0.22">NS</text>
<line x1="640.40" y1="433.50" x2="653.00" y2="433.50" stroke="#288c59" stroke-width="1.3" stroke-dasharray="1.3 9.4"/>
<rect x="644.30" y="430.90" width="5.2" height="5.2" fill="#fff" stroke="#288c59" stroke-width="1.2"/>
<text transform="translate(659.40 437.40) scale(1.190)" font-size="10" text-anchor="start" fill="#111" stroke="#111" stroke-width="0.22">Mb</text>
<line x1="640.40" y1="449.10" x2="653.00" y2="449.10" stroke="#2566b4" stroke-width="1.3" stroke-dasharray="1.3 1.7 1.3 6.4"/>
<path d="M646.90 446.44 L649.54 451.27 L644.25 451.27 Z" fill="#fff" stroke="#2566b4" stroke-width="1.0" stroke-linejoin="round"/>
<text transform="translate(659.40 453.00) scale(1.190)" font-size="10" text-anchor="start" fill="#111" stroke="#111" stroke-width="0.22">NEMHb</text>
<line x1="640.40" y1="464.70" x2="653.00" y2="464.70" stroke="#d4472a" stroke-width="1.4" stroke-dasharray="5 6 1.5 20"/>
<path d="M646.90 467.36 L649.54 462.53 L644.25 462.53 Z" fill="#fff" stroke="#d4472a" stroke-width="1.0" stroke-linejoin="round"/>
<text transform="translate(659.40 468.60) scale(1.190)" font-size="10" text-anchor="start" fill="#111" stroke="#111" stroke-width="0.22">StHb</text>
</svg>
</body>
</html>
